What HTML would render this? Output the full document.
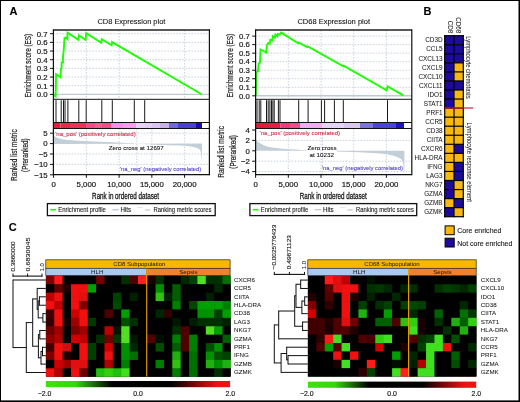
<!DOCTYPE html>
<html><head><meta charset="utf-8"><title>Figure</title><style>html,body{margin:0;padding:0;background:#fff;}body{width:520px;height:402px;overflow:hidden;font-family:"Liberation Sans", sans-serif;}svg{display:block;will-change:transform;}</style></head><body>
<svg width="520" height="402" viewBox="0 0 520 402" font-family='"Liberation Sans", sans-serif'>
<defs>
<linearGradient id="cbL" x1="0" x2="1" y1="0" y2="0"><stop offset="0" stop-color="#40e010"/><stop offset="0.16" stop-color="#36d80c"/><stop offset="0.36" stop-color="#000"/><stop offset="0.68" stop-color="#000"/><stop offset="0.93" stop-color="#f01010"/><stop offset="1" stop-color="#f41212"/></linearGradient>
<linearGradient id="cbR" x1="0" x2="1" y1="0" y2="0"><stop offset="0" stop-color="#40e010"/><stop offset="0.16" stop-color="#36d80c"/><stop offset="0.36" stop-color="#000"/><stop offset="0.68" stop-color="#000"/><stop offset="0.93" stop-color="#f01010"/><stop offset="1" stop-color="#f41212"/></linearGradient>
</defs>
<rect x="0.00" y="0.00" width="520.00" height="402.00" fill="#000"/>
<rect x="1.00" y="1.00" width="517.50" height="399.40" fill="#fff"/>
<text x="9.60" y="15.00" font-size="11" fill="#000" stroke="#000" stroke-width="0.12" font-weight="bold">A</text>
<text x="131.40" y="24.20" font-size="7.5" fill="#111" stroke="#111" stroke-width="0.08" text-anchor="middle" textLength="68.00" lengthAdjust="spacingAndGlyphs">CD8 Expression plot</text>
<line x1="53.40" y1="85.73" x2="209.40" y2="85.73" stroke="#bdc8d3" stroke-width="0.8" stroke-dasharray="1.6 1.4"/>
<line x1="53.40" y1="77.06" x2="209.40" y2="77.06" stroke="#bdc8d3" stroke-width="0.8" stroke-dasharray="1.6 1.4"/>
<line x1="53.40" y1="68.39" x2="209.40" y2="68.39" stroke="#bdc8d3" stroke-width="0.8" stroke-dasharray="1.6 1.4"/>
<line x1="53.40" y1="59.71" x2="209.40" y2="59.71" stroke="#bdc8d3" stroke-width="0.8" stroke-dasharray="1.6 1.4"/>
<line x1="53.40" y1="51.04" x2="209.40" y2="51.04" stroke="#bdc8d3" stroke-width="0.8" stroke-dasharray="1.6 1.4"/>
<line x1="53.40" y1="42.37" x2="209.40" y2="42.37" stroke="#bdc8d3" stroke-width="0.8" stroke-dasharray="1.6 1.4"/>
<line x1="53.40" y1="33.70" x2="209.40" y2="33.70" stroke="#bdc8d3" stroke-width="0.8" stroke-dasharray="1.6 1.4"/>
<line x1="86.35" y1="30.00" x2="86.35" y2="99.30" stroke="#bdc8d3" stroke-width="0.8" stroke-dasharray="1.6 1.4"/>
<line x1="119.10" y1="30.00" x2="119.10" y2="99.30" stroke="#bdc8d3" stroke-width="0.8" stroke-dasharray="1.6 1.4"/>
<line x1="184.60" y1="30.00" x2="184.60" y2="99.30" stroke="#bdc8d3" stroke-width="0.8" stroke-dasharray="1.6 1.4"/>
<line x1="53.40" y1="94.40" x2="209.40" y2="94.40" stroke="#bccad6" stroke-width="1.4"/>
<polyline points="53.90,94.70 55.60,96.30 56.10,74.30 60.50,77.20 61.00,69.00 61.60,67.80 61.60,62.40 63.00,62.40 63.00,57.00 63.80,49.50 64.50,38.00 66.00,37.60 67.40,39.00 67.60,32.70 78.40,39.80 78.80,35.50 85.60,39.80 86.20,33.20 101.20,42.80 101.80,39.30 111.60,45.30 112.10,42.10 201.60,94.30" fill="none" stroke="#1cff00" stroke-width="1.9" stroke-linejoin="miter"/>
<line x1="53.40" y1="133.20" x2="209.40" y2="133.20" stroke="#bdc8d3" stroke-width="0.8" stroke-dasharray="1.6 1.4"/>
<line x1="53.40" y1="154.00" x2="209.40" y2="154.00" stroke="#bdc8d3" stroke-width="0.8" stroke-dasharray="1.6 1.4"/>
<line x1="53.40" y1="164.40" x2="209.40" y2="164.40" stroke="#bdc8d3" stroke-width="0.8" stroke-dasharray="1.6 1.4"/>
<line x1="86.35" y1="128.50" x2="86.35" y2="174.60" stroke="#bdc8d3" stroke-width="0.8" stroke-dasharray="1.6 1.4"/>
<line x1="119.10" y1="128.50" x2="119.10" y2="174.60" stroke="#bdc8d3" stroke-width="0.8" stroke-dasharray="1.6 1.4"/>
<line x1="151.85" y1="128.50" x2="151.85" y2="174.60" stroke="#bdc8d3" stroke-width="0.8" stroke-dasharray="1.6 1.4"/>
<line x1="184.60" y1="128.50" x2="184.60" y2="174.60" stroke="#bdc8d3" stroke-width="0.8" stroke-dasharray="1.6 1.4"/>
<line x1="136.77" y1="128.50" x2="136.77" y2="174.60" stroke="#bdc8d3" stroke-width="0.8" stroke-dasharray="1.6 1.4"/>
<path d="M54,143.9 L54,135.9 C56,137.3 59,138.5 64,139.5 C72,140.6 84,141.2 100,141.8 C112,142.2 125,142.8 137,143.4 L137,143.7 L160,145 L180,145.6 C190,146.2 196,147.2 199,149 C200.6,150 201.2,152 201.6,160 L201.9,160 L201.9,143.6 Z" fill="#c3cfd8" stroke="none"/>
<rect x="53.90" y="122.50" width="6.60" height="6.00" fill="#ec1a3c"/>
<rect x="60.50" y="122.50" width="9.50" height="6.00" fill="#ea2a48"/>
<rect x="70.00" y="122.50" width="16.00" height="6.00" fill="#ee3358"/>
<rect x="86.00" y="122.50" width="9.00" height="6.00" fill="#f24d86"/>
<rect x="95.00" y="122.50" width="7.00" height="6.00" fill="#f0608e"/>
<rect x="102.00" y="122.50" width="9.60" height="6.00" fill="#ef4f86"/>
<rect x="111.60" y="122.50" width="11.40" height="6.00" fill="#f88eea"/>
<rect x="123.00" y="122.50" width="13.00" height="6.00" fill="#f89cec"/>
<rect x="136.00" y="122.50" width="9.00" height="6.00" fill="#e8d2f6"/>
<rect x="145.00" y="122.50" width="7.00" height="6.00" fill="#e4ccf4"/>
<rect x="152.00" y="122.50" width="8.00" height="6.00" fill="#dac4f4"/>
<rect x="160.00" y="122.50" width="9.00" height="6.00" fill="#c8b0f0"/>
<rect x="169.00" y="122.50" width="9.00" height="6.00" fill="#7068e0"/>
<rect x="178.00" y="122.50" width="18.00" height="6.00" fill="#4a40d4"/>
<rect x="196.00" y="122.50" width="6.00" height="6.00" fill="#1a0cb4"/>
<rect x="202.00" y="122.50" width="6.80" height="6.00" fill="#ffffff"/>
<line x1="56.00" y1="100.20" x2="56.00" y2="122.50" stroke="#1a1a1a" stroke-width="1.0"/>
<line x1="61.20" y1="100.20" x2="61.20" y2="122.50" stroke="#1a1a1a" stroke-width="1.0"/>
<line x1="63.50" y1="100.20" x2="63.50" y2="122.50" stroke="#1a1a1a" stroke-width="1.0"/>
<line x1="65.00" y1="100.20" x2="65.00" y2="122.50" stroke="#1a1a1a" stroke-width="1.0"/>
<line x1="67.90" y1="100.20" x2="67.90" y2="122.50" stroke="#1a1a1a" stroke-width="1.0"/>
<line x1="78.80" y1="100.20" x2="78.80" y2="122.50" stroke="#1a1a1a" stroke-width="1.0"/>
<line x1="86.20" y1="100.20" x2="86.20" y2="122.50" stroke="#1a1a1a" stroke-width="1.0"/>
<line x1="101.80" y1="100.20" x2="101.80" y2="122.50" stroke="#1a1a1a" stroke-width="1.0"/>
<line x1="112.30" y1="100.20" x2="112.30" y2="122.50" stroke="#1a1a1a" stroke-width="1.0"/>
<line x1="134.30" y1="100.20" x2="134.30" y2="122.50" stroke="#1a1a1a" stroke-width="1.0"/>
<line x1="144.70" y1="100.20" x2="144.70" y2="122.50" stroke="#1a1a1a" stroke-width="1.0"/>
<line x1="53.40" y1="30.00" x2="209.40" y2="30.00" stroke="#222" stroke-width="1.4"/>
<line x1="53.40" y1="99.30" x2="209.40" y2="99.30" stroke="#111" stroke-width="1.0"/>
<line x1="53.40" y1="122.50" x2="209.40" y2="122.50" stroke="#111" stroke-width="1.0"/>
<line x1="53.40" y1="128.50" x2="209.40" y2="128.50" stroke="#111" stroke-width="1.0"/>
<line x1="53.40" y1="174.60" x2="209.40" y2="174.60" stroke="#111" stroke-width="1.2"/>
<line x1="53.40" y1="29.30" x2="53.40" y2="175.20" stroke="#111" stroke-width="1.2"/>
<line x1="209.40" y1="29.30" x2="209.40" y2="175.20" stroke="#111" stroke-width="1.2"/>
<line x1="50.00" y1="94.40" x2="53.40" y2="94.40" stroke="#111" stroke-width="1.0"/>
<text x="47.60" y="97.20" font-size="7.8" fill="#1a1a1a" stroke="#1a1a1a" stroke-width="0.2" text-anchor="end">0.0</text>
<line x1="50.00" y1="85.73" x2="53.40" y2="85.73" stroke="#111" stroke-width="1.0"/>
<text x="47.60" y="88.53" font-size="7.8" fill="#1a1a1a" stroke="#1a1a1a" stroke-width="0.2" text-anchor="end">0.1</text>
<line x1="50.00" y1="77.06" x2="53.40" y2="77.06" stroke="#111" stroke-width="1.0"/>
<text x="47.60" y="79.86" font-size="7.8" fill="#1a1a1a" stroke="#1a1a1a" stroke-width="0.2" text-anchor="end">0.2</text>
<line x1="50.00" y1="68.39" x2="53.40" y2="68.39" stroke="#111" stroke-width="1.0"/>
<text x="47.60" y="71.19" font-size="7.8" fill="#1a1a1a" stroke="#1a1a1a" stroke-width="0.2" text-anchor="end">0.3</text>
<line x1="50.00" y1="59.71" x2="53.40" y2="59.71" stroke="#111" stroke-width="1.0"/>
<text x="47.60" y="62.51" font-size="7.8" fill="#1a1a1a" stroke="#1a1a1a" stroke-width="0.2" text-anchor="end">0.4</text>
<line x1="50.00" y1="51.04" x2="53.40" y2="51.04" stroke="#111" stroke-width="1.0"/>
<text x="47.60" y="53.84" font-size="7.8" fill="#1a1a1a" stroke="#1a1a1a" stroke-width="0.2" text-anchor="end">0.5</text>
<line x1="50.00" y1="42.37" x2="53.40" y2="42.37" stroke="#111" stroke-width="1.0"/>
<text x="47.60" y="45.17" font-size="7.8" fill="#1a1a1a" stroke="#1a1a1a" stroke-width="0.2" text-anchor="end">0.6</text>
<line x1="50.00" y1="33.70" x2="53.40" y2="33.70" stroke="#111" stroke-width="1.0"/>
<text x="47.60" y="36.50" font-size="7.8" fill="#1a1a1a" stroke="#1a1a1a" stroke-width="0.2" text-anchor="end">0.7</text>
<line x1="50.00" y1="133.20" x2="53.40" y2="133.20" stroke="#111" stroke-width="1.0"/>
<text x="47.60" y="136.00" font-size="7.8" fill="#1a1a1a" stroke="#1a1a1a" stroke-width="0.2" text-anchor="end">5</text>
<line x1="50.00" y1="143.60" x2="53.40" y2="143.60" stroke="#111" stroke-width="1.0"/>
<text x="47.60" y="146.40" font-size="7.8" fill="#1a1a1a" stroke="#1a1a1a" stroke-width="0.2" text-anchor="end">0</text>
<line x1="50.00" y1="154.00" x2="53.40" y2="154.00" stroke="#111" stroke-width="1.0"/>
<text x="47.60" y="156.80" font-size="7.8" fill="#1a1a1a" stroke="#1a1a1a" stroke-width="0.2" text-anchor="end">−5</text>
<line x1="50.00" y1="164.40" x2="53.40" y2="164.40" stroke="#111" stroke-width="1.0"/>
<text x="47.60" y="167.20" font-size="7.8" fill="#1a1a1a" stroke="#1a1a1a" stroke-width="0.2" text-anchor="end">−10</text>
<line x1="50.00" y1="174.80" x2="53.40" y2="174.80" stroke="#111" stroke-width="1.0"/>
<text x="47.60" y="177.60" font-size="7.8" fill="#1a1a1a" stroke="#1a1a1a" stroke-width="0.2" text-anchor="end">−15</text>
<line x1="53.60" y1="174.60" x2="53.60" y2="177.80" stroke="#111" stroke-width="1.0"/>
<text x="53.60" y="187.00" font-size="7.8" fill="#1a1a1a" stroke="#1a1a1a" stroke-width="0.2" text-anchor="middle">0</text>
<line x1="86.35" y1="174.60" x2="86.35" y2="177.80" stroke="#111" stroke-width="1.0"/>
<text x="86.35" y="187.00" font-size="7.8" fill="#1a1a1a" stroke="#1a1a1a" stroke-width="0.2" text-anchor="middle">5,000</text>
<line x1="119.10" y1="174.60" x2="119.10" y2="177.80" stroke="#111" stroke-width="1.0"/>
<text x="119.10" y="187.00" font-size="7.8" fill="#1a1a1a" stroke="#1a1a1a" stroke-width="0.2" text-anchor="middle">10,000</text>
<line x1="151.85" y1="174.60" x2="151.85" y2="177.80" stroke="#111" stroke-width="1.0"/>
<text x="151.85" y="187.00" font-size="7.8" fill="#1a1a1a" stroke="#1a1a1a" stroke-width="0.2" text-anchor="middle">15,000</text>
<line x1="184.60" y1="174.60" x2="184.60" y2="177.80" stroke="#111" stroke-width="1.0"/>
<text x="184.60" y="187.00" font-size="7.8" fill="#1a1a1a" stroke="#1a1a1a" stroke-width="0.2" text-anchor="middle">20,000</text>
<text x="125.60" y="198.90" font-size="9.2" fill="#111" stroke="#111" stroke-width="0.28" text-anchor="middle" textLength="67.00" lengthAdjust="spacingAndGlyphs">Rank in ordered dataset</text>
<text x="31.00" y="65.65" font-size="9.0" fill="#1a1a1a" stroke="#1a1a1a" stroke-width="0.2" text-anchor="middle" textLength="63.50" lengthAdjust="spacingAndGlyphs" transform="rotate(-90 31.00 65.65)">Enrichment score (ES)</text>
<text x="16.80" y="155.10" font-size="8.6" fill="#1a1a1a" stroke="#1a1a1a" stroke-width="0.2" text-anchor="middle" textLength="51.60" lengthAdjust="spacingAndGlyphs" transform="rotate(-90 16.80 155.10)">Ranked list metric</text>
<text x="27.90" y="155.10" font-size="8.6" fill="#1a1a1a" stroke="#1a1a1a" stroke-width="0.2" text-anchor="middle" textLength="33.70" lengthAdjust="spacingAndGlyphs" transform="rotate(-90 27.90 155.10)">(Preranked)</text>
<text x="55.20" y="135.70" font-size="6.2" fill="#d22a46" stroke="#d22a46" stroke-width="0.08" textLength="80.50" lengthAdjust="spacingAndGlyphs">'na_pos' (positively correlated)</text>
<text x="108.80" y="150.00" font-size="6.2" fill="#111" stroke="#111" stroke-width="0.08" textLength="54.90" lengthAdjust="spacingAndGlyphs">Zero cross at 12697</text>
<text x="119.90" y="170.80" font-size="6.2" fill="#4c3cc4" stroke="#4c3cc4" stroke-width="0.08" textLength="81.40" lengthAdjust="spacingAndGlyphs">'na_neg' (negatively correlated)</text>
<rect x="47.40" y="203.60" width="167.80" height="12.00" fill="none" stroke="#111" stroke-width="1.3"/>
<line x1="50.20" y1="209.70" x2="56.00" y2="209.70" stroke="#1cff00" stroke-width="1.6"/>
<text x="58.30" y="211.80" font-size="6.9" fill="#222" stroke="#222" stroke-width="0.12" textLength="47.50" lengthAdjust="spacingAndGlyphs">Enrichment profile</text>
<line x1="112.40" y1="209.70" x2="118.80" y2="209.70" stroke="#bccad6" stroke-width="1.3"/>
<text x="120.50" y="211.80" font-size="6.9" fill="#222" stroke="#222" stroke-width="0.12" textLength="10.60" lengthAdjust="spacingAndGlyphs">Hits</text>
<line x1="137.50" y1="207.50" x2="142.90" y2="207.50" stroke="#e3e9ee" stroke-width="1.1"/>
<line x1="144.90" y1="210.00" x2="150.30" y2="210.00" stroke="#bccad6" stroke-width="1.2"/>
<text x="153.60" y="211.80" font-size="6.9" fill="#222" stroke="#222" stroke-width="0.12" textLength="57.90" lengthAdjust="spacingAndGlyphs">Ranking metric scores</text>
<text x="333.70" y="24.20" font-size="7.5" fill="#111" stroke="#111" stroke-width="0.08" text-anchor="middle" textLength="72.60" lengthAdjust="spacingAndGlyphs">CD68 Expression plot</text>
<line x1="255.60" y1="87.27" x2="411.80" y2="87.27" stroke="#bdc8d3" stroke-width="0.8" stroke-dasharray="1.6 1.4"/>
<line x1="255.60" y1="78.74" x2="411.80" y2="78.74" stroke="#bdc8d3" stroke-width="0.8" stroke-dasharray="1.6 1.4"/>
<line x1="255.60" y1="70.21" x2="411.80" y2="70.21" stroke="#bdc8d3" stroke-width="0.8" stroke-dasharray="1.6 1.4"/>
<line x1="255.60" y1="61.69" x2="411.80" y2="61.69" stroke="#bdc8d3" stroke-width="0.8" stroke-dasharray="1.6 1.4"/>
<line x1="255.60" y1="53.16" x2="411.80" y2="53.16" stroke="#bdc8d3" stroke-width="0.8" stroke-dasharray="1.6 1.4"/>
<line x1="255.60" y1="44.63" x2="411.80" y2="44.63" stroke="#bdc8d3" stroke-width="0.8" stroke-dasharray="1.6 1.4"/>
<line x1="255.60" y1="36.10" x2="411.80" y2="36.10" stroke="#bdc8d3" stroke-width="0.8" stroke-dasharray="1.6 1.4"/>
<line x1="288.30" y1="30.00" x2="288.30" y2="99.30" stroke="#bdc8d3" stroke-width="0.8" stroke-dasharray="1.6 1.4"/>
<line x1="321.00" y1="30.00" x2="321.00" y2="99.30" stroke="#bdc8d3" stroke-width="0.8" stroke-dasharray="1.6 1.4"/>
<line x1="353.70" y1="30.00" x2="353.70" y2="99.30" stroke="#bdc8d3" stroke-width="0.8" stroke-dasharray="1.6 1.4"/>
<line x1="386.40" y1="30.00" x2="386.40" y2="99.30" stroke="#bdc8d3" stroke-width="0.8" stroke-dasharray="1.6 1.4"/>
<line x1="255.60" y1="95.80" x2="411.80" y2="95.80" stroke="#bccad6" stroke-width="1.4"/>
<polyline points="255.80,95.70 256.30,72.50 258.00,71.30 258.70,63.30 260.00,62.80 260.50,49.50 266.20,52.50 266.80,45.50 268.20,43.00 269.80,43.80 270.40,39.60 272.40,40.60 272.90,36.40 274.90,37.60 275.40,34.60 277.40,36.20 277.90,34.00 279.60,34.60 281.20,32.60 298.20,43.20 298.80,42.60 307.20,47.00 307.80,46.40 343.00,66.10 343.60,65.60 386.60,90.30 387.60,86.40 403.30,95.40" fill="none" stroke="#1cff00" stroke-width="1.9" stroke-linejoin="miter"/>
<line x1="255.60" y1="140.40" x2="411.80" y2="140.40" stroke="#bdc8d3" stroke-width="0.8" stroke-dasharray="1.6 1.4"/>
<line x1="255.60" y1="161.20" x2="411.80" y2="161.20" stroke="#bdc8d3" stroke-width="0.8" stroke-dasharray="1.6 1.4"/>
<line x1="255.60" y1="171.60" x2="411.80" y2="171.60" stroke="#bdc8d3" stroke-width="0.8" stroke-dasharray="1.6 1.4"/>
<line x1="288.30" y1="128.50" x2="288.30" y2="174.60" stroke="#bdc8d3" stroke-width="0.8" stroke-dasharray="1.6 1.4"/>
<line x1="321.00" y1="128.50" x2="321.00" y2="174.60" stroke="#bdc8d3" stroke-width="0.8" stroke-dasharray="1.6 1.4"/>
<line x1="353.70" y1="128.50" x2="353.70" y2="174.60" stroke="#bdc8d3" stroke-width="0.8" stroke-dasharray="1.6 1.4"/>
<line x1="386.40" y1="128.50" x2="386.40" y2="174.60" stroke="#bdc8d3" stroke-width="0.8" stroke-dasharray="1.6 1.4"/>
<line x1="322.52" y1="128.50" x2="322.52" y2="174.60" stroke="#bdc8d3" stroke-width="0.8" stroke-dasharray="1.6 1.4"/>
<path d="M256,150.8 L256,140.3 C259,142.5 262,145 268,146.8 C278,148.6 292,149.6 306.5,150.2 L306.5,150.8 Z M337,150.8 L337,151.5 L360,152.2 L380,153.5 C392,154.8 398,156.5 401.5,159.5 C403,161 403.6,165 404,172 L404.4,172 L404.4,150.8 Z" fill="#c3cfd8" stroke="none"/>
<rect x="255.90" y="122.50" width="12.10" height="6.00" fill="#ee1638"/>
<rect x="268.00" y="122.50" width="12.40" height="6.00" fill="#e81c40"/>
<rect x="280.40" y="122.50" width="9.60" height="6.00" fill="#f03c7c"/>
<rect x="290.00" y="122.50" width="10.00" height="6.00" fill="#f0508a"/>
<rect x="300.00" y="122.50" width="22.00" height="6.00" fill="#f8aaf0"/>
<rect x="322.00" y="122.50" width="21.60" height="6.00" fill="#e6d4f6"/>
<rect x="343.60" y="122.50" width="16.40" height="6.00" fill="#d9c8f2"/>
<rect x="360.00" y="122.50" width="13.00" height="6.00" fill="#7c74e4"/>
<rect x="373.00" y="122.50" width="23.00" height="6.00" fill="#4a44d8"/>
<rect x="396.00" y="122.50" width="8.00" height="6.00" fill="#1a14c4"/>
<rect x="404.00" y="122.50" width="7.40" height="6.00" fill="#ffffff"/>
<line x1="257.00" y1="100.20" x2="257.00" y2="122.50" stroke="#1a1a1a" stroke-width="1.0"/>
<line x1="259.20" y1="100.20" x2="259.20" y2="122.50" stroke="#1a1a1a" stroke-width="1.0"/>
<line x1="260.80" y1="100.20" x2="260.80" y2="122.50" stroke="#1a1a1a" stroke-width="1.0"/>
<line x1="266.50" y1="100.20" x2="266.50" y2="122.50" stroke="#1a1a1a" stroke-width="1.0"/>
<line x1="268.20" y1="100.20" x2="268.20" y2="122.50" stroke="#1a1a1a" stroke-width="1.0"/>
<line x1="269.90" y1="100.20" x2="269.90" y2="122.50" stroke="#1a1a1a" stroke-width="1.0"/>
<line x1="271.50" y1="100.20" x2="271.50" y2="122.50" stroke="#1a1a1a" stroke-width="1.0"/>
<line x1="272.90" y1="100.20" x2="272.90" y2="122.50" stroke="#1a1a1a" stroke-width="1.0"/>
<line x1="274.20" y1="100.20" x2="274.20" y2="122.50" stroke="#1a1a1a" stroke-width="1.0"/>
<line x1="278.40" y1="100.20" x2="278.40" y2="122.50" stroke="#1a1a1a" stroke-width="1.0"/>
<line x1="280.00" y1="100.20" x2="280.00" y2="122.50" stroke="#1a1a1a" stroke-width="1.0"/>
<line x1="298.70" y1="100.20" x2="298.70" y2="122.50" stroke="#1a1a1a" stroke-width="1.0"/>
<line x1="308.10" y1="100.20" x2="308.10" y2="122.50" stroke="#1a1a1a" stroke-width="1.0"/>
<line x1="321.40" y1="100.20" x2="321.40" y2="122.50" stroke="#1a1a1a" stroke-width="1.0"/>
<line x1="324.60" y1="100.20" x2="324.60" y2="122.50" stroke="#1a1a1a" stroke-width="1.0"/>
<line x1="334.40" y1="100.20" x2="334.40" y2="122.50" stroke="#1a1a1a" stroke-width="1.0"/>
<line x1="343.30" y1="100.20" x2="343.30" y2="122.50" stroke="#1a1a1a" stroke-width="1.0"/>
<line x1="387.50" y1="100.20" x2="387.50" y2="122.50" stroke="#1a1a1a" stroke-width="1.0"/>
<line x1="255.60" y1="30.00" x2="411.80" y2="30.00" stroke="#222" stroke-width="1.4"/>
<line x1="255.60" y1="99.30" x2="411.80" y2="99.30" stroke="#111" stroke-width="1.0"/>
<line x1="255.60" y1="122.50" x2="411.80" y2="122.50" stroke="#111" stroke-width="1.0"/>
<line x1="255.60" y1="128.50" x2="411.80" y2="128.50" stroke="#111" stroke-width="1.0"/>
<line x1="255.60" y1="174.60" x2="411.80" y2="174.60" stroke="#111" stroke-width="1.2"/>
<line x1="255.60" y1="29.30" x2="255.60" y2="175.20" stroke="#111" stroke-width="1.2"/>
<line x1="411.80" y1="29.30" x2="411.80" y2="175.20" stroke="#111" stroke-width="1.2"/>
<line x1="252.20" y1="95.80" x2="255.60" y2="95.80" stroke="#111" stroke-width="1.0"/>
<text x="249.80" y="98.60" font-size="7.8" fill="#1a1a1a" stroke="#1a1a1a" stroke-width="0.2" text-anchor="end">0.0</text>
<line x1="252.20" y1="87.27" x2="255.60" y2="87.27" stroke="#111" stroke-width="1.0"/>
<text x="249.80" y="90.07" font-size="7.8" fill="#1a1a1a" stroke="#1a1a1a" stroke-width="0.2" text-anchor="end">0.1</text>
<line x1="252.20" y1="78.74" x2="255.60" y2="78.74" stroke="#111" stroke-width="1.0"/>
<text x="249.80" y="81.54" font-size="7.8" fill="#1a1a1a" stroke="#1a1a1a" stroke-width="0.2" text-anchor="end">0.2</text>
<line x1="252.20" y1="70.21" x2="255.60" y2="70.21" stroke="#111" stroke-width="1.0"/>
<text x="249.80" y="73.01" font-size="7.8" fill="#1a1a1a" stroke="#1a1a1a" stroke-width="0.2" text-anchor="end">0.3</text>
<line x1="252.20" y1="61.69" x2="255.60" y2="61.69" stroke="#111" stroke-width="1.0"/>
<text x="249.80" y="64.49" font-size="7.8" fill="#1a1a1a" stroke="#1a1a1a" stroke-width="0.2" text-anchor="end">0.4</text>
<line x1="252.20" y1="53.16" x2="255.60" y2="53.16" stroke="#111" stroke-width="1.0"/>
<text x="249.80" y="55.96" font-size="7.8" fill="#1a1a1a" stroke="#1a1a1a" stroke-width="0.2" text-anchor="end">0.5</text>
<line x1="252.20" y1="44.63" x2="255.60" y2="44.63" stroke="#111" stroke-width="1.0"/>
<text x="249.80" y="47.43" font-size="7.8" fill="#1a1a1a" stroke="#1a1a1a" stroke-width="0.2" text-anchor="end">0.6</text>
<line x1="252.20" y1="36.10" x2="255.60" y2="36.10" stroke="#111" stroke-width="1.0"/>
<text x="249.80" y="38.90" font-size="7.8" fill="#1a1a1a" stroke="#1a1a1a" stroke-width="0.2" text-anchor="end">0.7</text>
<line x1="252.20" y1="130.00" x2="255.60" y2="130.00" stroke="#111" stroke-width="1.0"/>
<text x="249.80" y="132.80" font-size="7.8" fill="#1a1a1a" stroke="#1a1a1a" stroke-width="0.2" text-anchor="end">4</text>
<line x1="252.20" y1="140.40" x2="255.60" y2="140.40" stroke="#111" stroke-width="1.0"/>
<text x="249.80" y="143.20" font-size="7.8" fill="#1a1a1a" stroke="#1a1a1a" stroke-width="0.2" text-anchor="end">2</text>
<line x1="252.20" y1="150.80" x2="255.60" y2="150.80" stroke="#111" stroke-width="1.0"/>
<text x="249.80" y="153.60" font-size="7.8" fill="#1a1a1a" stroke="#1a1a1a" stroke-width="0.2" text-anchor="end">0</text>
<line x1="252.20" y1="161.20" x2="255.60" y2="161.20" stroke="#111" stroke-width="1.0"/>
<text x="249.80" y="164.00" font-size="7.8" fill="#1a1a1a" stroke="#1a1a1a" stroke-width="0.2" text-anchor="end">−2</text>
<line x1="252.20" y1="171.60" x2="255.60" y2="171.60" stroke="#111" stroke-width="1.0"/>
<text x="249.80" y="174.40" font-size="7.8" fill="#1a1a1a" stroke="#1a1a1a" stroke-width="0.2" text-anchor="end">−4</text>
<line x1="255.60" y1="174.60" x2="255.60" y2="177.80" stroke="#111" stroke-width="1.0"/>
<text x="255.60" y="187.00" font-size="7.8" fill="#1a1a1a" stroke="#1a1a1a" stroke-width="0.2" text-anchor="middle">0</text>
<line x1="288.30" y1="174.60" x2="288.30" y2="177.80" stroke="#111" stroke-width="1.0"/>
<text x="288.30" y="187.00" font-size="7.8" fill="#1a1a1a" stroke="#1a1a1a" stroke-width="0.2" text-anchor="middle">5,000</text>
<line x1="321.00" y1="174.60" x2="321.00" y2="177.80" stroke="#111" stroke-width="1.0"/>
<text x="321.00" y="187.00" font-size="7.8" fill="#1a1a1a" stroke="#1a1a1a" stroke-width="0.2" text-anchor="middle">10,000</text>
<line x1="353.70" y1="174.60" x2="353.70" y2="177.80" stroke="#111" stroke-width="1.0"/>
<text x="353.70" y="187.00" font-size="7.8" fill="#1a1a1a" stroke="#1a1a1a" stroke-width="0.2" text-anchor="middle">15,000</text>
<line x1="386.40" y1="174.60" x2="386.40" y2="177.80" stroke="#111" stroke-width="1.0"/>
<text x="386.40" y="187.00" font-size="7.8" fill="#1a1a1a" stroke="#1a1a1a" stroke-width="0.2" text-anchor="middle">20,000</text>
<text x="333.30" y="198.90" font-size="9.2" fill="#111" stroke="#111" stroke-width="0.28" text-anchor="middle" textLength="67.00" lengthAdjust="spacingAndGlyphs">Rank in ordered dataset</text>
<text x="232.60" y="65.65" font-size="9.0" fill="#1a1a1a" stroke="#1a1a1a" stroke-width="0.2" text-anchor="middle" textLength="63.50" lengthAdjust="spacingAndGlyphs" transform="rotate(-90 232.60 65.65)">Enrichment score (ES)</text>
<text x="224.20" y="151.90" font-size="8.6" fill="#1a1a1a" stroke="#1a1a1a" stroke-width="0.2" text-anchor="middle" textLength="51.60" lengthAdjust="spacingAndGlyphs" transform="rotate(-90 224.20 151.90)">Ranked list metric</text>
<text x="235.60" y="151.90" font-size="8.6" fill="#1a1a1a" stroke="#1a1a1a" stroke-width="0.2" text-anchor="middle" textLength="33.70" lengthAdjust="spacingAndGlyphs" transform="rotate(-90 235.60 151.90)">(Preranked)</text>
<text x="259.60" y="135.20" font-size="6.2" fill="#d22a46" stroke="#d22a46" stroke-width="0.08" textLength="80.50" lengthAdjust="spacingAndGlyphs">'na_pos' (positively correlated)</text>
<text x="307.50" y="149.60" font-size="6.2" fill="#111" stroke="#111" stroke-width="0.08" textLength="29.00" lengthAdjust="spacingAndGlyphs">Zero cross</text>
<text x="309.60" y="156.90" font-size="6.2" fill="#111" stroke="#111" stroke-width="0.08" textLength="24.50" lengthAdjust="spacingAndGlyphs">at 10232</text>
<text x="322.00" y="169.50" font-size="6.2" fill="#4c3cc4" stroke="#4c3cc4" stroke-width="0.08" textLength="81.00" lengthAdjust="spacingAndGlyphs">'na_neg' (negatively correlated)</text>
<rect x="249.90" y="203.60" width="166.80" height="12.00" fill="none" stroke="#111" stroke-width="1.3"/>
<line x1="252.70" y1="209.70" x2="258.50" y2="209.70" stroke="#1cff00" stroke-width="1.6"/>
<text x="260.80" y="211.80" font-size="6.9" fill="#222" stroke="#222" stroke-width="0.12" textLength="47.50" lengthAdjust="spacingAndGlyphs">Enrichment profile</text>
<line x1="314.90" y1="209.70" x2="321.30" y2="209.70" stroke="#bccad6" stroke-width="1.3"/>
<text x="323.00" y="211.80" font-size="6.9" fill="#222" stroke="#222" stroke-width="0.12" textLength="10.60" lengthAdjust="spacingAndGlyphs">Hits</text>
<line x1="340.00" y1="207.50" x2="345.40" y2="207.50" stroke="#e3e9ee" stroke-width="1.1"/>
<line x1="347.40" y1="210.00" x2="352.80" y2="210.00" stroke="#bccad6" stroke-width="1.2"/>
<text x="356.10" y="211.80" font-size="6.9" fill="#222" stroke="#222" stroke-width="0.12" textLength="57.90" lengthAdjust="spacingAndGlyphs">Ranking metric scores</text>
<text x="423.50" y="14.90" font-size="11" fill="#000" stroke="#000" stroke-width="0.12" font-weight="bold">B</text>
<rect x="444.70" y="35.70" width="9.30" height="9.05" fill="#1d0b9c"/>
<rect x="454.00" y="35.70" width="9.30" height="9.05" fill="#1d0b9c"/>
<text x="442.60" y="42.43" font-size="6.4" fill="#1a1a1a" stroke="#1a1a1a" stroke-width="0.04" text-anchor="end">CD3D</text>
<rect x="444.70" y="44.75" width="9.30" height="9.05" fill="#1d0b9c"/>
<rect x="454.00" y="44.75" width="9.30" height="9.05" fill="#1d0b9c"/>
<text x="442.60" y="51.48" font-size="6.4" fill="#1a1a1a" stroke="#1a1a1a" stroke-width="0.04" text-anchor="end">CCL5</text>
<rect x="444.70" y="53.80" width="9.30" height="9.05" fill="#1d0b9c"/>
<rect x="454.00" y="53.80" width="9.30" height="9.05" fill="#1d0b9c"/>
<text x="442.60" y="60.53" font-size="6.4" fill="#1a1a1a" stroke="#1a1a1a" stroke-width="0.04" text-anchor="end">CXCL13</text>
<rect x="444.70" y="62.85" width="9.30" height="9.05" fill="#1d0b9c"/>
<rect x="454.00" y="62.85" width="9.30" height="9.05" fill="#f9b90c"/>
<text x="442.60" y="69.58" font-size="6.4" fill="#1a1a1a" stroke="#1a1a1a" stroke-width="0.04" text-anchor="end">CXCL9</text>
<rect x="444.70" y="71.90" width="9.30" height="9.05" fill="#1d0b9c"/>
<rect x="454.00" y="71.90" width="9.30" height="9.05" fill="#f9b90c"/>
<text x="442.60" y="78.63" font-size="6.4" fill="#1a1a1a" stroke="#1a1a1a" stroke-width="0.04" text-anchor="end">CXCL10</text>
<rect x="444.70" y="80.95" width="9.30" height="9.05" fill="#1d0b9c"/>
<rect x="454.00" y="80.95" width="9.30" height="9.05" fill="#1d0b9c"/>
<text x="442.60" y="87.68" font-size="6.4" fill="#1a1a1a" stroke="#1a1a1a" stroke-width="0.04" text-anchor="end">CXCL11</text>
<rect x="444.70" y="90.00" width="9.30" height="9.05" fill="#1d0b9c"/>
<rect x="454.00" y="90.00" width="9.30" height="9.05" fill="#f9b90c"/>
<text x="442.60" y="96.73" font-size="6.4" fill="#1a1a1a" stroke="#1a1a1a" stroke-width="0.04" text-anchor="end">IDO1</text>
<rect x="444.70" y="99.05" width="9.30" height="9.05" fill="#1d0b9c"/>
<rect x="454.00" y="99.05" width="9.30" height="9.05" fill="#f9b90c"/>
<text x="442.60" y="105.78" font-size="6.4" fill="#1a1a1a" stroke="#1a1a1a" stroke-width="0.04" text-anchor="end">STAT1</text>
<rect x="444.70" y="108.10" width="9.30" height="9.05" fill="#f9b90c"/>
<rect x="454.00" y="108.10" width="9.30" height="9.05" fill="#f9b90c"/>
<text x="442.60" y="114.83" font-size="6.4" fill="#1a1a1a" stroke="#1a1a1a" stroke-width="0.04" text-anchor="end">PRF1</text>
<rect x="444.70" y="117.15" width="9.30" height="9.05" fill="#f9b90c"/>
<rect x="454.00" y="117.15" width="9.30" height="9.05" fill="#f9b90c"/>
<text x="442.60" y="123.88" font-size="6.4" fill="#1a1a1a" stroke="#1a1a1a" stroke-width="0.04" text-anchor="end">CCR5</text>
<rect x="444.70" y="126.20" width="9.30" height="9.05" fill="#f9b90c"/>
<rect x="454.00" y="126.20" width="9.30" height="9.05" fill="#f9b90c"/>
<text x="442.60" y="132.92" font-size="6.4" fill="#1a1a1a" stroke="#1a1a1a" stroke-width="0.04" text-anchor="end">CD38</text>
<rect x="444.70" y="135.25" width="9.30" height="9.05" fill="#f9b90c"/>
<rect x="454.00" y="135.25" width="9.30" height="9.05" fill="#f9b90c"/>
<text x="442.60" y="141.97" font-size="6.4" fill="#1a1a1a" stroke="#1a1a1a" stroke-width="0.04" text-anchor="end">CIITA</text>
<rect x="444.70" y="144.30" width="9.30" height="9.05" fill="#f9b90c"/>
<rect x="454.00" y="144.30" width="9.30" height="9.05" fill="#1d0b9c"/>
<text x="442.60" y="151.03" font-size="6.4" fill="#1a1a1a" stroke="#1a1a1a" stroke-width="0.04" text-anchor="end">CXCR6</text>
<rect x="444.70" y="153.35" width="9.30" height="9.05" fill="#f9b90c"/>
<rect x="454.00" y="153.35" width="9.30" height="9.05" fill="#f9b90c"/>
<text x="442.60" y="160.08" font-size="6.4" fill="#1a1a1a" stroke="#1a1a1a" stroke-width="0.04" text-anchor="end">HLA-DRA</text>
<rect x="444.70" y="162.40" width="9.30" height="9.05" fill="#f9b90c"/>
<rect x="454.00" y="162.40" width="9.30" height="9.05" fill="#1d0b9c"/>
<text x="442.60" y="169.13" font-size="6.4" fill="#1a1a1a" stroke="#1a1a1a" stroke-width="0.04" text-anchor="end">IFNG</text>
<rect x="444.70" y="171.45" width="9.30" height="9.05" fill="#f9b90c"/>
<rect x="454.00" y="171.45" width="9.30" height="9.05" fill="#1d0b9c"/>
<text x="442.60" y="178.17" font-size="6.4" fill="#1a1a1a" stroke="#1a1a1a" stroke-width="0.04" text-anchor="end">LAG3</text>
<rect x="444.70" y="180.50" width="9.30" height="9.05" fill="#1d0b9c"/>
<rect x="454.00" y="180.50" width="9.30" height="9.05" fill="#f9b90c"/>
<text x="442.60" y="187.22" font-size="6.4" fill="#1a1a1a" stroke="#1a1a1a" stroke-width="0.04" text-anchor="end">NKG7</text>
<rect x="444.70" y="189.55" width="9.30" height="9.05" fill="#1d0b9c"/>
<rect x="454.00" y="189.55" width="9.30" height="9.05" fill="#f9b90c"/>
<text x="442.60" y="196.28" font-size="6.4" fill="#1a1a1a" stroke="#1a1a1a" stroke-width="0.04" text-anchor="end">GZMA</text>
<rect x="444.70" y="198.60" width="9.30" height="9.05" fill="#f9b90c"/>
<rect x="454.00" y="198.60" width="9.30" height="9.05" fill="#1d0b9c"/>
<text x="442.60" y="205.33" font-size="6.4" fill="#1a1a1a" stroke="#1a1a1a" stroke-width="0.04" text-anchor="end">GZMB</text>
<rect x="444.70" y="207.65" width="9.30" height="9.05" fill="#1d0b9c"/>
<rect x="454.00" y="207.65" width="9.30" height="9.05" fill="#f9b90c"/>
<text x="442.60" y="214.38" font-size="6.4" fill="#1a1a1a" stroke="#1a1a1a" stroke-width="0.04" text-anchor="end">GZMK</text>
<line x1="444.10" y1="35.70" x2="463.90" y2="35.70" stroke="#000" stroke-width="1.2"/>
<line x1="444.10" y1="44.75" x2="463.90" y2="44.75" stroke="#000" stroke-width="1.2"/>
<line x1="444.10" y1="53.80" x2="463.90" y2="53.80" stroke="#000" stroke-width="1.2"/>
<line x1="444.10" y1="62.85" x2="463.90" y2="62.85" stroke="#000" stroke-width="1.2"/>
<line x1="444.10" y1="71.90" x2="463.90" y2="71.90" stroke="#000" stroke-width="1.2"/>
<line x1="444.10" y1="80.95" x2="463.90" y2="80.95" stroke="#000" stroke-width="1.2"/>
<line x1="444.10" y1="90.00" x2="463.90" y2="90.00" stroke="#000" stroke-width="1.2"/>
<line x1="444.10" y1="99.05" x2="463.90" y2="99.05" stroke="#000" stroke-width="1.2"/>
<line x1="444.10" y1="108.10" x2="463.90" y2="108.10" stroke="#000" stroke-width="1.2"/>
<line x1="444.10" y1="117.15" x2="463.90" y2="117.15" stroke="#000" stroke-width="1.2"/>
<line x1="444.10" y1="126.20" x2="463.90" y2="126.20" stroke="#000" stroke-width="1.2"/>
<line x1="444.10" y1="135.25" x2="463.90" y2="135.25" stroke="#000" stroke-width="1.2"/>
<line x1="444.10" y1="144.30" x2="463.90" y2="144.30" stroke="#000" stroke-width="1.2"/>
<line x1="444.10" y1="153.35" x2="463.90" y2="153.35" stroke="#000" stroke-width="1.2"/>
<line x1="444.10" y1="162.40" x2="463.90" y2="162.40" stroke="#000" stroke-width="1.2"/>
<line x1="444.10" y1="171.45" x2="463.90" y2="171.45" stroke="#000" stroke-width="1.2"/>
<line x1="444.10" y1="180.50" x2="463.90" y2="180.50" stroke="#000" stroke-width="1.2"/>
<line x1="444.10" y1="189.55" x2="463.90" y2="189.55" stroke="#000" stroke-width="1.2"/>
<line x1="444.10" y1="198.60" x2="463.90" y2="198.60" stroke="#000" stroke-width="1.2"/>
<line x1="444.10" y1="207.65" x2="463.90" y2="207.65" stroke="#000" stroke-width="1.2"/>
<line x1="444.10" y1="216.70" x2="463.90" y2="216.70" stroke="#000" stroke-width="1.2"/>
<line x1="444.70" y1="35.10" x2="444.70" y2="217.30" stroke="#000" stroke-width="1.2"/>
<line x1="454.00" y1="35.10" x2="454.00" y2="217.30" stroke="#000" stroke-width="1.2"/>
<line x1="463.30" y1="35.10" x2="463.30" y2="217.30" stroke="#000" stroke-width="1.2"/>
<text x="448.10" y="33.30" font-size="6.3" fill="#1a1a1a" stroke="#1a1a1a" stroke-width="0.04" text-anchor="end" transform="rotate(90 448.10 33.30)">CD8</text>
<text x="456.40" y="33.30" font-size="6.3" fill="#1a1a1a" stroke="#1a1a1a" stroke-width="0.04" text-anchor="end" transform="rotate(90 456.40 33.30)">CD68</text>
<line x1="444.40" y1="108.00" x2="473.20" y2="108.00" stroke="#d2203a" stroke-width="1.2"/>
<text x="466.00" y="36.20" font-size="6.4" fill="#1a1a1a" stroke="#1a1a1a" stroke-width="0.03" textLength="62.40" lengthAdjust="spacingAndGlyphs" transform="rotate(90 466.00 36.20)">Lymphocyte chemotaxis</text>
<text x="466.80" y="122.60" font-size="6.4" fill="#1a1a1a" stroke="#1a1a1a" stroke-width="0.03" textLength="79.40" lengthAdjust="spacingAndGlyphs" transform="rotate(90 466.80 122.60)">Lymphocyte response element</text>
<rect x="445.10" y="225.90" width="9.10" height="8.80" fill="#f9b90c" stroke="#000" stroke-width="1.0"/>
<rect x="445.10" y="238.20" width="9.10" height="8.80" fill="#1d0b9c" stroke="#000" stroke-width="1.0"/>
<text x="457.20" y="233.30" font-size="7.3" fill="#1a1a1a" stroke="#1a1a1a" stroke-width="0.12" textLength="44.20" lengthAdjust="spacingAndGlyphs">Core enriched</text>
<text x="457.20" y="245.60" font-size="7.3" fill="#1a1a1a" stroke="#1a1a1a" stroke-width="0.12" textLength="55.20" lengthAdjust="spacingAndGlyphs">Not core enriched</text>
<text x="8.80" y="230.70" font-size="11" fill="#000" stroke="#000" stroke-width="0.12" font-weight="bold">C</text>
<rect x="45.80" y="259.80" width="184.30" height="8.50" fill="#f9b800" stroke="#3a3020" stroke-width="0.75"/>
<rect x="45.80" y="268.50" width="100.80" height="7.00" fill="#a9c9f1" stroke="#3a4050" stroke-width="0.75"/>
<rect x="146.60" y="268.50" width="83.50" height="7.00" fill="#ef8231" stroke="#4a3020" stroke-width="0.75"/>
<text x="139.35" y="266.30" font-size="6.0" fill="#1a1a1a" stroke="#1a1a1a" stroke-width="0.02" text-anchor="middle">CD8 Subpopulation</text>
<text x="97.20" y="273.80" font-size="6.1" fill="#1a1a1a" stroke="#1a1a1a" stroke-width="0.02" text-anchor="middle">HLH</text>
<text x="188.35" y="273.80" font-size="6.1" fill="#2a1a10" stroke="#2a1a10" stroke-width="0.02" text-anchor="middle">Sepsis</text>
<rect x="45.90" y="275.80" width="184.14" height="100.92" fill="#000"/>
<rect x="45.90" y="275.80" width="8.97" height="9.01" fill="#800000"/>
<rect x="54.27" y="275.80" width="8.97" height="9.01" fill="#ff1a1a"/>
<rect x="62.64" y="275.80" width="8.97" height="9.01" fill="#000"/>
<rect x="71.01" y="275.80" width="8.97" height="9.01" fill="#000"/>
<rect x="79.38" y="275.80" width="8.97" height="9.01" fill="#000"/>
<rect x="87.75" y="275.80" width="8.97" height="9.01" fill="#000"/>
<rect x="96.12" y="275.80" width="8.97" height="9.01" fill="#700000"/>
<rect x="104.49" y="275.80" width="8.97" height="9.01" fill="#000"/>
<rect x="112.86" y="275.80" width="8.97" height="9.01" fill="#000"/>
<rect x="121.23" y="275.80" width="8.97" height="9.01" fill="#003000"/>
<rect x="129.60" y="275.80" width="8.97" height="9.01" fill="#500000"/>
<rect x="137.97" y="275.80" width="8.97" height="9.01" fill="#ff2020"/>
<rect x="147.20" y="275.80" width="8.97" height="9.01" fill="#180000"/>
<rect x="155.57" y="275.80" width="8.97" height="9.01" fill="#003000"/>
<rect x="163.94" y="275.80" width="8.97" height="9.01" fill="#000"/>
<rect x="172.31" y="275.80" width="8.97" height="9.01" fill="#000"/>
<rect x="180.68" y="275.80" width="8.97" height="9.01" fill="#002800"/>
<rect x="189.05" y="275.80" width="8.97" height="9.01" fill="#004000"/>
<rect x="197.42" y="275.80" width="8.97" height="9.01" fill="#50e020"/>
<rect x="205.79" y="275.80" width="8.97" height="9.01" fill="#003000"/>
<rect x="214.16" y="275.80" width="8.97" height="9.01" fill="#003000"/>
<rect x="222.53" y="275.80" width="8.37" height="9.01" fill="#007000"/>
<rect x="45.90" y="284.21" width="8.97" height="9.01" fill="#000"/>
<rect x="54.27" y="284.21" width="8.97" height="9.01" fill="#600000"/>
<rect x="62.64" y="284.21" width="8.97" height="9.01" fill="#200000"/>
<rect x="71.01" y="284.21" width="8.97" height="9.01" fill="#f01010"/>
<rect x="79.38" y="284.21" width="8.97" height="9.01" fill="#f01010"/>
<rect x="87.75" y="284.21" width="8.97" height="9.01" fill="#00a000"/>
<rect x="96.12" y="284.21" width="8.97" height="9.01" fill="#000"/>
<rect x="104.49" y="284.21" width="8.97" height="9.01" fill="#000"/>
<rect x="112.86" y="284.21" width="8.97" height="9.01" fill="#000"/>
<rect x="121.23" y="284.21" width="8.97" height="9.01" fill="#000"/>
<rect x="129.60" y="284.21" width="8.97" height="9.01" fill="#000"/>
<rect x="137.97" y="284.21" width="8.97" height="9.01" fill="#000"/>
<rect x="147.20" y="284.21" width="8.97" height="9.01" fill="#000"/>
<rect x="155.57" y="284.21" width="8.97" height="9.01" fill="#009000"/>
<rect x="163.94" y="284.21" width="8.97" height="9.01" fill="#000"/>
<rect x="172.31" y="284.21" width="8.97" height="9.01" fill="#006000"/>
<rect x="180.68" y="284.21" width="8.97" height="9.01" fill="#000"/>
<rect x="189.05" y="284.21" width="8.97" height="9.01" fill="#000"/>
<rect x="197.42" y="284.21" width="8.97" height="9.01" fill="#000"/>
<rect x="205.79" y="284.21" width="8.97" height="9.01" fill="#000"/>
<rect x="214.16" y="284.21" width="8.97" height="9.01" fill="#002800"/>
<rect x="222.53" y="284.21" width="8.37" height="9.01" fill="#000"/>
<rect x="45.90" y="292.62" width="8.97" height="9.01" fill="#c00000"/>
<rect x="54.27" y="292.62" width="8.97" height="9.01" fill="#f01010"/>
<rect x="62.64" y="292.62" width="8.97" height="9.01" fill="#000"/>
<rect x="71.01" y="292.62" width="8.97" height="9.01" fill="#f01010"/>
<rect x="79.38" y="292.62" width="8.97" height="9.01" fill="#e01010"/>
<rect x="87.75" y="292.62" width="8.97" height="9.01" fill="#000"/>
<rect x="96.12" y="292.62" width="8.97" height="9.01" fill="#000"/>
<rect x="104.49" y="292.62" width="8.97" height="9.01" fill="#000"/>
<rect x="112.86" y="292.62" width="8.97" height="9.01" fill="#004000"/>
<rect x="121.23" y="292.62" width="8.97" height="9.01" fill="#000"/>
<rect x="129.60" y="292.62" width="8.97" height="9.01" fill="#002000"/>
<rect x="137.97" y="292.62" width="8.97" height="9.01" fill="#000"/>
<rect x="147.20" y="292.62" width="8.97" height="9.01" fill="#000"/>
<rect x="155.57" y="292.62" width="8.97" height="9.01" fill="#30c010"/>
<rect x="163.94" y="292.62" width="8.97" height="9.01" fill="#002000"/>
<rect x="172.31" y="292.62" width="8.97" height="9.01" fill="#006000"/>
<rect x="180.68" y="292.62" width="8.97" height="9.01" fill="#000"/>
<rect x="189.05" y="292.62" width="8.97" height="9.01" fill="#000"/>
<rect x="197.42" y="292.62" width="8.97" height="9.01" fill="#000"/>
<rect x="205.79" y="292.62" width="8.97" height="9.01" fill="#002000"/>
<rect x="214.16" y="292.62" width="8.97" height="9.01" fill="#000"/>
<rect x="222.53" y="292.62" width="8.37" height="9.01" fill="#000"/>
<rect x="45.90" y="301.03" width="8.97" height="9.01" fill="#f01010"/>
<rect x="54.27" y="301.03" width="8.97" height="9.01" fill="#c00000"/>
<rect x="62.64" y="301.03" width="8.97" height="9.01" fill="#000"/>
<rect x="71.01" y="301.03" width="8.97" height="9.01" fill="#f01010"/>
<rect x="79.38" y="301.03" width="8.97" height="9.01" fill="#800000"/>
<rect x="87.75" y="301.03" width="8.97" height="9.01" fill="#000"/>
<rect x="96.12" y="301.03" width="8.97" height="9.01" fill="#000"/>
<rect x="104.49" y="301.03" width="8.97" height="9.01" fill="#000"/>
<rect x="112.86" y="301.03" width="8.97" height="9.01" fill="#004a00"/>
<rect x="121.23" y="301.03" width="8.97" height="9.01" fill="#000"/>
<rect x="129.60" y="301.03" width="8.97" height="9.01" fill="#000"/>
<rect x="137.97" y="301.03" width="8.97" height="9.01" fill="#000"/>
<rect x="147.20" y="301.03" width="8.97" height="9.01" fill="#000"/>
<rect x="155.57" y="301.03" width="8.97" height="9.01" fill="#000"/>
<rect x="163.94" y="301.03" width="8.97" height="9.01" fill="#000"/>
<rect x="172.31" y="301.03" width="8.97" height="9.01" fill="#008000"/>
<rect x="180.68" y="301.03" width="8.97" height="9.01" fill="#000"/>
<rect x="189.05" y="301.03" width="8.97" height="9.01" fill="#004400"/>
<rect x="197.42" y="301.03" width="8.97" height="9.01" fill="#00a000"/>
<rect x="205.79" y="301.03" width="8.97" height="9.01" fill="#00a000"/>
<rect x="214.16" y="301.03" width="8.97" height="9.01" fill="#00a000"/>
<rect x="222.53" y="301.03" width="8.37" height="9.01" fill="#008000"/>
<rect x="45.90" y="309.44" width="8.97" height="9.01" fill="#400000"/>
<rect x="54.27" y="309.44" width="8.97" height="9.01" fill="#f01010"/>
<rect x="62.64" y="309.44" width="8.97" height="9.01" fill="#000"/>
<rect x="71.01" y="309.44" width="8.97" height="9.01" fill="#d00000"/>
<rect x="79.38" y="309.44" width="8.97" height="9.01" fill="#f01010"/>
<rect x="87.75" y="309.44" width="8.97" height="9.01" fill="#000"/>
<rect x="96.12" y="309.44" width="8.97" height="9.01" fill="#000"/>
<rect x="104.49" y="309.44" width="8.97" height="9.01" fill="#500000"/>
<rect x="112.86" y="309.44" width="8.97" height="9.01" fill="#000"/>
<rect x="121.23" y="309.44" width="8.97" height="9.01" fill="#00a000"/>
<rect x="129.60" y="309.44" width="8.97" height="9.01" fill="#000"/>
<rect x="137.97" y="309.44" width="8.97" height="9.01" fill="#000"/>
<rect x="147.20" y="309.44" width="8.97" height="9.01" fill="#000"/>
<rect x="155.57" y="309.44" width="8.97" height="9.01" fill="#002800"/>
<rect x="163.94" y="309.44" width="8.97" height="9.01" fill="#300000"/>
<rect x="172.31" y="309.44" width="8.97" height="9.01" fill="#000"/>
<rect x="180.68" y="309.44" width="8.97" height="9.01" fill="#000"/>
<rect x="189.05" y="309.44" width="8.97" height="9.01" fill="#000"/>
<rect x="197.42" y="309.44" width="8.97" height="9.01" fill="#009000"/>
<rect x="205.79" y="309.44" width="8.97" height="9.01" fill="#009000"/>
<rect x="214.16" y="309.44" width="8.97" height="9.01" fill="#004000"/>
<rect x="222.53" y="309.44" width="8.37" height="9.01" fill="#00a000"/>
<rect x="45.90" y="317.85" width="8.97" height="9.01" fill="#300000"/>
<rect x="54.27" y="317.85" width="8.97" height="9.01" fill="#f01010"/>
<rect x="62.64" y="317.85" width="8.97" height="9.01" fill="#150000"/>
<rect x="71.01" y="317.85" width="8.97" height="9.01" fill="#a00000"/>
<rect x="79.38" y="317.85" width="8.97" height="9.01" fill="#f01010"/>
<rect x="87.75" y="317.85" width="8.97" height="9.01" fill="#003800"/>
<rect x="96.12" y="317.85" width="8.97" height="9.01" fill="#000"/>
<rect x="104.49" y="317.85" width="8.97" height="9.01" fill="#000"/>
<rect x="112.86" y="317.85" width="8.97" height="9.01" fill="#000"/>
<rect x="121.23" y="317.85" width="8.97" height="9.01" fill="#005000"/>
<rect x="129.60" y="317.85" width="8.97" height="9.01" fill="#003000"/>
<rect x="137.97" y="317.85" width="8.97" height="9.01" fill="#000"/>
<rect x="147.20" y="317.85" width="8.97" height="9.01" fill="#000"/>
<rect x="155.57" y="317.85" width="8.97" height="9.01" fill="#000"/>
<rect x="163.94" y="317.85" width="8.97" height="9.01" fill="#000"/>
<rect x="172.31" y="317.85" width="8.97" height="9.01" fill="#001800"/>
<rect x="180.68" y="317.85" width="8.97" height="9.01" fill="#000"/>
<rect x="189.05" y="317.85" width="8.97" height="9.01" fill="#001c00"/>
<rect x="197.42" y="317.85" width="8.97" height="9.01" fill="#003000"/>
<rect x="205.79" y="317.85" width="8.97" height="9.01" fill="#003000"/>
<rect x="214.16" y="317.85" width="8.97" height="9.01" fill="#003000"/>
<rect x="222.53" y="317.85" width="8.37" height="9.01" fill="#002000"/>
<rect x="45.90" y="326.26" width="8.97" height="9.01" fill="#700000"/>
<rect x="54.27" y="326.26" width="8.97" height="9.01" fill="#a00000"/>
<rect x="62.64" y="326.26" width="8.97" height="9.01" fill="#000"/>
<rect x="71.01" y="326.26" width="8.97" height="9.01" fill="#800000"/>
<rect x="79.38" y="326.26" width="8.97" height="9.01" fill="#a00000"/>
<rect x="87.75" y="326.26" width="8.97" height="9.01" fill="#000"/>
<rect x="96.12" y="326.26" width="8.97" height="9.01" fill="#000"/>
<rect x="104.49" y="326.26" width="8.97" height="9.01" fill="#c00000"/>
<rect x="112.86" y="326.26" width="8.97" height="9.01" fill="#001800"/>
<rect x="121.23" y="326.26" width="8.97" height="9.01" fill="#50e020"/>
<rect x="129.60" y="326.26" width="8.97" height="9.01" fill="#000"/>
<rect x="137.97" y="326.26" width="8.97" height="9.01" fill="#000"/>
<rect x="147.20" y="326.26" width="8.97" height="9.01" fill="#000"/>
<rect x="155.57" y="326.26" width="8.97" height="9.01" fill="#000"/>
<rect x="163.94" y="326.26" width="8.97" height="9.01" fill="#000"/>
<rect x="172.31" y="326.26" width="8.97" height="9.01" fill="#003000"/>
<rect x="180.68" y="326.26" width="8.97" height="9.01" fill="#500000"/>
<rect x="189.05" y="326.26" width="8.97" height="9.01" fill="#000"/>
<rect x="197.42" y="326.26" width="8.97" height="9.01" fill="#000"/>
<rect x="205.79" y="326.26" width="8.97" height="9.01" fill="#50e020"/>
<rect x="214.16" y="326.26" width="8.97" height="9.01" fill="#00a000"/>
<rect x="222.53" y="326.26" width="8.37" height="9.01" fill="#000"/>
<rect x="45.90" y="334.67" width="8.97" height="9.01" fill="#900000"/>
<rect x="54.27" y="334.67" width="8.97" height="9.01" fill="#b00000"/>
<rect x="62.64" y="334.67" width="8.97" height="9.01" fill="#000"/>
<rect x="71.01" y="334.67" width="8.97" height="9.01" fill="#d00000"/>
<rect x="79.38" y="334.67" width="8.97" height="9.01" fill="#c00000"/>
<rect x="87.75" y="334.67" width="8.97" height="9.01" fill="#000"/>
<rect x="96.12" y="334.67" width="8.97" height="9.01" fill="#003000"/>
<rect x="104.49" y="334.67" width="8.97" height="9.01" fill="#700000"/>
<rect x="112.86" y="334.67" width="8.97" height="9.01" fill="#003800"/>
<rect x="121.23" y="334.67" width="8.97" height="9.01" fill="#50e020"/>
<rect x="129.60" y="334.67" width="8.97" height="9.01" fill="#001800"/>
<rect x="137.97" y="334.67" width="8.97" height="9.01" fill="#000"/>
<rect x="147.20" y="334.67" width="8.97" height="9.01" fill="#500000"/>
<rect x="155.57" y="334.67" width="8.97" height="9.01" fill="#001000"/>
<rect x="163.94" y="334.67" width="8.97" height="9.01" fill="#000"/>
<rect x="172.31" y="334.67" width="8.97" height="9.01" fill="#008000"/>
<rect x="180.68" y="334.67" width="8.97" height="9.01" fill="#500000"/>
<rect x="189.05" y="334.67" width="8.97" height="9.01" fill="#008000"/>
<rect x="197.42" y="334.67" width="8.97" height="9.01" fill="#000"/>
<rect x="205.79" y="334.67" width="8.97" height="9.01" fill="#000"/>
<rect x="214.16" y="334.67" width="8.97" height="9.01" fill="#000"/>
<rect x="222.53" y="334.67" width="8.37" height="9.01" fill="#006000"/>
<rect x="45.90" y="343.08" width="8.97" height="9.01" fill="#400000"/>
<rect x="54.27" y="343.08" width="8.97" height="9.01" fill="#f01010"/>
<rect x="62.64" y="343.08" width="8.97" height="9.01" fill="#d01010"/>
<rect x="71.01" y="343.08" width="8.97" height="9.01" fill="#000"/>
<rect x="79.38" y="343.08" width="8.97" height="9.01" fill="#f01010"/>
<rect x="87.75" y="343.08" width="8.97" height="9.01" fill="#004000"/>
<rect x="96.12" y="343.08" width="8.97" height="9.01" fill="#000"/>
<rect x="104.49" y="343.08" width="8.97" height="9.01" fill="#d00000"/>
<rect x="112.86" y="343.08" width="8.97" height="9.01" fill="#000"/>
<rect x="121.23" y="343.08" width="8.97" height="9.01" fill="#009000"/>
<rect x="129.60" y="343.08" width="8.97" height="9.01" fill="#002800"/>
<rect x="137.97" y="343.08" width="8.97" height="9.01" fill="#000"/>
<rect x="147.20" y="343.08" width="8.97" height="9.01" fill="#000"/>
<rect x="155.57" y="343.08" width="8.97" height="9.01" fill="#005000"/>
<rect x="163.94" y="343.08" width="8.97" height="9.01" fill="#000"/>
<rect x="172.31" y="343.08" width="8.97" height="9.01" fill="#006000"/>
<rect x="180.68" y="343.08" width="8.97" height="9.01" fill="#500000"/>
<rect x="189.05" y="343.08" width="8.97" height="9.01" fill="#008000"/>
<rect x="197.42" y="343.08" width="8.97" height="9.01" fill="#000"/>
<rect x="205.79" y="343.08" width="8.97" height="9.01" fill="#005000"/>
<rect x="214.16" y="343.08" width="8.97" height="9.01" fill="#009000"/>
<rect x="222.53" y="343.08" width="8.37" height="9.01" fill="#000"/>
<rect x="45.90" y="351.49" width="8.97" height="9.01" fill="#800000"/>
<rect x="54.27" y="351.49" width="8.97" height="9.01" fill="#f01010"/>
<rect x="62.64" y="351.49" width="8.97" height="9.01" fill="#200000"/>
<rect x="71.01" y="351.49" width="8.97" height="9.01" fill="#000"/>
<rect x="79.38" y="351.49" width="8.97" height="9.01" fill="#f01010"/>
<rect x="87.75" y="351.49" width="8.97" height="9.01" fill="#004000"/>
<rect x="96.12" y="351.49" width="8.97" height="9.01" fill="#000"/>
<rect x="104.49" y="351.49" width="8.97" height="9.01" fill="#f01010"/>
<rect x="112.86" y="351.49" width="8.97" height="9.01" fill="#000"/>
<rect x="121.23" y="351.49" width="8.97" height="9.01" fill="#009000"/>
<rect x="129.60" y="351.49" width="8.97" height="9.01" fill="#007000"/>
<rect x="137.97" y="351.49" width="8.97" height="9.01" fill="#000"/>
<rect x="147.20" y="351.49" width="8.97" height="9.01" fill="#000"/>
<rect x="155.57" y="351.49" width="8.97" height="9.01" fill="#000"/>
<rect x="163.94" y="351.49" width="8.97" height="9.01" fill="#000"/>
<rect x="172.31" y="351.49" width="8.97" height="9.01" fill="#20b010"/>
<rect x="180.68" y="351.49" width="8.97" height="9.01" fill="#000"/>
<rect x="189.05" y="351.49" width="8.97" height="9.01" fill="#007000"/>
<rect x="197.42" y="351.49" width="8.97" height="9.01" fill="#000"/>
<rect x="205.79" y="351.49" width="8.97" height="9.01" fill="#009000"/>
<rect x="214.16" y="351.49" width="8.97" height="9.01" fill="#005000"/>
<rect x="222.53" y="351.49" width="8.37" height="9.01" fill="#004000"/>
<rect x="45.90" y="359.90" width="8.97" height="9.01" fill="#000"/>
<rect x="54.27" y="359.90" width="8.97" height="9.01" fill="#d00000"/>
<rect x="62.64" y="359.90" width="8.97" height="9.01" fill="#a00000"/>
<rect x="71.01" y="359.90" width="8.97" height="9.01" fill="#e01010"/>
<rect x="79.38" y="359.90" width="8.97" height="9.01" fill="#e01010"/>
<rect x="87.75" y="359.90" width="8.97" height="9.01" fill="#000"/>
<rect x="96.12" y="359.90" width="8.97" height="9.01" fill="#000"/>
<rect x="104.49" y="359.90" width="8.97" height="9.01" fill="#b00000"/>
<rect x="112.86" y="359.90" width="8.97" height="9.01" fill="#000"/>
<rect x="121.23" y="359.90" width="8.97" height="9.01" fill="#008000"/>
<rect x="129.60" y="359.90" width="8.97" height="9.01" fill="#000"/>
<rect x="137.97" y="359.90" width="8.97" height="9.01" fill="#000"/>
<rect x="147.20" y="359.90" width="8.97" height="9.01" fill="#000"/>
<rect x="155.57" y="359.90" width="8.97" height="9.01" fill="#008000"/>
<rect x="163.94" y="359.90" width="8.97" height="9.01" fill="#000"/>
<rect x="172.31" y="359.90" width="8.97" height="9.01" fill="#30c010"/>
<rect x="180.68" y="359.90" width="8.97" height="9.01" fill="#000"/>
<rect x="189.05" y="359.90" width="8.97" height="9.01" fill="#007000"/>
<rect x="197.42" y="359.90" width="8.97" height="9.01" fill="#000"/>
<rect x="205.79" y="359.90" width="8.97" height="9.01" fill="#20b010"/>
<rect x="214.16" y="359.90" width="8.97" height="9.01" fill="#009000"/>
<rect x="222.53" y="359.90" width="8.37" height="9.01" fill="#20b010"/>
<rect x="45.90" y="368.31" width="8.97" height="8.41" fill="#f01010"/>
<rect x="54.27" y="368.31" width="8.97" height="8.41" fill="#b00000"/>
<rect x="62.64" y="368.31" width="8.97" height="8.41" fill="#000"/>
<rect x="71.01" y="368.31" width="8.97" height="8.41" fill="#f01010"/>
<rect x="79.38" y="368.31" width="8.97" height="8.41" fill="#700000"/>
<rect x="87.75" y="368.31" width="8.97" height="8.41" fill="#000"/>
<rect x="96.12" y="368.31" width="8.97" height="8.41" fill="#20c010"/>
<rect x="104.49" y="368.31" width="8.97" height="8.41" fill="#30d010"/>
<rect x="112.86" y="368.31" width="8.97" height="8.41" fill="#20c010"/>
<rect x="121.23" y="368.31" width="8.97" height="8.41" fill="#40e020"/>
<rect x="129.60" y="368.31" width="8.97" height="8.41" fill="#000"/>
<rect x="137.97" y="368.31" width="8.97" height="8.41" fill="#000"/>
<rect x="147.20" y="368.31" width="8.97" height="8.41" fill="#000"/>
<rect x="155.57" y="368.31" width="8.97" height="8.41" fill="#000"/>
<rect x="163.94" y="368.31" width="8.97" height="8.41" fill="#000"/>
<rect x="172.31" y="368.31" width="8.97" height="8.41" fill="#008000"/>
<rect x="180.68" y="368.31" width="8.97" height="8.41" fill="#000"/>
<rect x="189.05" y="368.31" width="8.97" height="8.41" fill="#007000"/>
<rect x="197.42" y="368.31" width="8.97" height="8.41" fill="#000"/>
<rect x="205.79" y="368.31" width="8.97" height="8.41" fill="#000"/>
<rect x="214.16" y="368.31" width="8.97" height="8.41" fill="#003000"/>
<rect x="222.53" y="368.31" width="8.37" height="8.41" fill="#000"/>
<line x1="146.70" y1="268.40" x2="146.70" y2="376.50" stroke="#f0a000" stroke-width="1.1"/>
<text x="234.00" y="281.70" font-size="6.2" fill="#1a1a1a" stroke="#1a1a1a" stroke-width="0.06">CXCR6</text>
<text x="234.00" y="290.12" font-size="6.2" fill="#1a1a1a" stroke="#1a1a1a" stroke-width="0.06">CCR5</text>
<text x="234.00" y="298.52" font-size="6.2" fill="#1a1a1a" stroke="#1a1a1a" stroke-width="0.06">CIITA</text>
<text x="234.00" y="306.94" font-size="6.2" fill="#1a1a1a" stroke="#1a1a1a" stroke-width="0.06">HLA-DRA</text>
<text x="234.00" y="315.34" font-size="6.2" fill="#1a1a1a" stroke="#1a1a1a" stroke-width="0.06">CD38</text>
<text x="234.00" y="323.75" font-size="6.2" fill="#1a1a1a" stroke="#1a1a1a" stroke-width="0.06">LAG3</text>
<text x="234.00" y="332.17" font-size="6.2" fill="#1a1a1a" stroke="#1a1a1a" stroke-width="0.06">NKG7</text>
<text x="234.00" y="340.57" font-size="6.2" fill="#1a1a1a" stroke="#1a1a1a" stroke-width="0.06">GZMA</text>
<text x="234.00" y="348.99" font-size="6.2" fill="#1a1a1a" stroke="#1a1a1a" stroke-width="0.06">PRF1</text>
<text x="234.00" y="357.39" font-size="6.2" fill="#1a1a1a" stroke="#1a1a1a" stroke-width="0.06">IFNG</text>
<text x="234.00" y="365.81" font-size="6.2" fill="#1a1a1a" stroke="#1a1a1a" stroke-width="0.06">GZMB</text>
<text x="234.00" y="374.21" font-size="6.2" fill="#1a1a1a" stroke="#1a1a1a" stroke-width="0.06">GZMK</text>
<line x1="39.40" y1="296.82" x2="45.90" y2="296.82" stroke="#111" stroke-width="1.0"/>
<line x1="39.40" y1="305.24" x2="45.90" y2="305.24" stroke="#111" stroke-width="1.0"/>
<line x1="39.40" y1="296.32" x2="39.40" y2="305.74" stroke="#111" stroke-width="1.0"/>
<line x1="42.90" y1="313.64" x2="45.90" y2="313.64" stroke="#111" stroke-width="1.0"/>
<line x1="42.90" y1="322.06" x2="45.90" y2="322.06" stroke="#111" stroke-width="1.0"/>
<line x1="42.90" y1="313.14" x2="42.90" y2="322.56" stroke="#111" stroke-width="1.0"/>
<line x1="38.20" y1="301.03" x2="39.40" y2="301.03" stroke="#111" stroke-width="1.0"/>
<line x1="38.20" y1="317.85" x2="42.90" y2="317.85" stroke="#111" stroke-width="1.0"/>
<line x1="38.20" y1="300.53" x2="38.20" y2="318.35" stroke="#111" stroke-width="1.0"/>
<line x1="37.20" y1="288.42" x2="45.90" y2="288.42" stroke="#111" stroke-width="1.0"/>
<line x1="37.20" y1="309.44" x2="38.20" y2="309.44" stroke="#111" stroke-width="1.0"/>
<line x1="37.20" y1="287.92" x2="37.20" y2="309.94" stroke="#111" stroke-width="1.0"/>
<line x1="39.80" y1="330.47" x2="45.90" y2="330.47" stroke="#111" stroke-width="1.0"/>
<line x1="39.80" y1="338.88" x2="45.90" y2="338.88" stroke="#111" stroke-width="1.0"/>
<line x1="39.80" y1="329.97" x2="39.80" y2="339.38" stroke="#111" stroke-width="1.0"/>
<line x1="42.50" y1="347.29" x2="45.90" y2="347.29" stroke="#111" stroke-width="1.0"/>
<line x1="42.50" y1="355.69" x2="45.90" y2="355.69" stroke="#111" stroke-width="1.0"/>
<line x1="42.50" y1="346.79" x2="42.50" y2="356.19" stroke="#111" stroke-width="1.0"/>
<line x1="41.00" y1="351.49" x2="42.50" y2="351.49" stroke="#111" stroke-width="1.0"/>
<line x1="41.00" y1="364.11" x2="45.90" y2="364.11" stroke="#111" stroke-width="1.0"/>
<line x1="41.00" y1="350.99" x2="41.00" y2="364.61" stroke="#111" stroke-width="1.0"/>
<line x1="38.40" y1="334.67" x2="39.80" y2="334.67" stroke="#111" stroke-width="1.0"/>
<line x1="38.40" y1="357.80" x2="41.00" y2="357.80" stroke="#111" stroke-width="1.0"/>
<line x1="38.40" y1="334.17" x2="38.40" y2="358.30" stroke="#111" stroke-width="1.0"/>
<line x1="32.70" y1="298.93" x2="37.20" y2="298.93" stroke="#111" stroke-width="1.0"/>
<line x1="32.70" y1="346.23" x2="38.40" y2="346.23" stroke="#111" stroke-width="1.0"/>
<line x1="32.70" y1="298.43" x2="32.70" y2="346.73" stroke="#111" stroke-width="1.0"/>
<line x1="26.30" y1="322.58" x2="32.70" y2="322.58" stroke="#111" stroke-width="1.0"/>
<line x1="26.30" y1="372.51" x2="45.90" y2="372.51" stroke="#111" stroke-width="1.0"/>
<line x1="26.30" y1="322.08" x2="26.30" y2="373.01" stroke="#111" stroke-width="1.0"/>
<line x1="13.00" y1="280.00" x2="45.90" y2="280.00" stroke="#111" stroke-width="1.0"/>
<line x1="13.00" y1="347.55" x2="26.30" y2="347.55" stroke="#111" stroke-width="1.0"/>
<line x1="13.00" y1="279.50" x2="13.00" y2="348.05" stroke="#111" stroke-width="1.0"/>
<line x1="12.60" y1="276.10" x2="42.40" y2="276.10" stroke="#111" stroke-width="1.1"/>
<line x1="13.00" y1="273.60" x2="13.00" y2="276.60" stroke="#111" stroke-width="1.0"/>
<line x1="27.60" y1="273.60" x2="27.60" y2="276.60" stroke="#111" stroke-width="1.0"/>
<line x1="42.00" y1="273.60" x2="42.00" y2="276.60" stroke="#111" stroke-width="1.0"/>
<text x="15.00" y="271.40" font-size="6.1" fill="#1a1a1a" stroke="#1a1a1a" stroke-width="0.13" textLength="29.80" lengthAdjust="spacingAndGlyphs" transform="rotate(-90 15.00 271.40)">0.3860000</text>
<text x="29.80" y="271.40" font-size="6.1" fill="#1a1a1a" stroke="#1a1a1a" stroke-width="0.13" textLength="34.00" lengthAdjust="spacingAndGlyphs" transform="rotate(-90 29.80 271.40)">0.6830045</text>
<text x="44.20" y="271.40" font-size="6.0" fill="#1a1a1a" stroke="#1a1a1a" stroke-width="0.05" transform="rotate(-90 44.20 271.40)">1.0</text>
<rect x="45.80" y="381.00" width="184.30" height="6.20" fill="url(#cbL)"/>
<text x="44.60" y="395.60" font-size="6.9" fill="#1a1a1a" stroke="#1a1a1a" stroke-width="0.17" text-anchor="middle">−2.0</text>
<text x="137.95" y="395.60" font-size="6.9" fill="#1a1a1a" stroke="#1a1a1a" stroke-width="0.17" text-anchor="middle">0.0</text>
<text x="230.30" y="395.60" font-size="6.9" fill="#1a1a1a" stroke="#1a1a1a" stroke-width="0.17" text-anchor="middle">2.0</text>
<rect x="307.80" y="259.80" width="168.40" height="8.50" fill="#f9b800" stroke="#3a3020" stroke-width="0.75"/>
<rect x="307.80" y="268.50" width="100.80" height="7.00" fill="#a9c9f1" stroke="#3a4050" stroke-width="0.75"/>
<rect x="408.60" y="268.50" width="67.60" height="7.00" fill="#ef8231" stroke="#4a3020" stroke-width="0.75"/>
<text x="392.00" y="266.30" font-size="6.0" fill="#1a1a1a" stroke="#1a1a1a" stroke-width="0.02" text-anchor="middle">CD68 Subpopulation</text>
<text x="359.20" y="273.80" font-size="6.1" fill="#1a1a1a" stroke="#1a1a1a" stroke-width="0.02" text-anchor="middle">HLH</text>
<text x="442.40" y="273.80" font-size="6.1" fill="#2a1a10" stroke="#2a1a10" stroke-width="0.02" text-anchor="middle">Sepsis</text>
<rect x="307.90" y="275.90" width="168.40" height="100.68" fill="#000"/>
<rect x="307.90" y="275.90" width="9.02" height="8.99" fill="#000"/>
<rect x="316.32" y="275.90" width="9.02" height="8.99" fill="#000"/>
<rect x="324.74" y="275.90" width="9.02" height="8.99" fill="#ff1a1a"/>
<rect x="333.16" y="275.90" width="9.02" height="8.99" fill="#e01010"/>
<rect x="341.58" y="275.90" width="9.02" height="8.99" fill="#c00000"/>
<rect x="350.00" y="275.90" width="9.02" height="8.99" fill="#000"/>
<rect x="358.42" y="275.90" width="9.02" height="8.99" fill="#000"/>
<rect x="366.84" y="275.90" width="9.02" height="8.99" fill="#001000"/>
<rect x="375.26" y="275.90" width="9.02" height="8.99" fill="#000"/>
<rect x="383.68" y="275.90" width="9.02" height="8.99" fill="#000"/>
<rect x="392.10" y="275.90" width="9.02" height="8.99" fill="#000"/>
<rect x="400.52" y="275.90" width="9.02" height="8.99" fill="#000"/>
<rect x="409.20" y="275.90" width="9.02" height="8.99" fill="#000"/>
<rect x="417.62" y="275.90" width="9.02" height="8.99" fill="#000"/>
<rect x="426.04" y="275.90" width="9.02" height="8.99" fill="#000"/>
<rect x="434.46" y="275.90" width="9.02" height="8.99" fill="#000"/>
<rect x="442.88" y="275.90" width="9.02" height="8.99" fill="#000"/>
<rect x="451.30" y="275.90" width="9.02" height="8.99" fill="#000"/>
<rect x="459.72" y="275.90" width="9.02" height="8.99" fill="#000"/>
<rect x="468.14" y="275.90" width="8.42" height="8.99" fill="#000"/>
<rect x="307.90" y="284.29" width="9.02" height="8.99" fill="#000"/>
<rect x="316.32" y="284.29" width="9.02" height="8.99" fill="#000"/>
<rect x="324.74" y="284.29" width="9.02" height="8.99" fill="#600000"/>
<rect x="333.16" y="284.29" width="9.02" height="8.99" fill="#e01010"/>
<rect x="341.58" y="284.29" width="9.02" height="8.99" fill="#f01010"/>
<rect x="350.00" y="284.29" width="9.02" height="8.99" fill="#f01010"/>
<rect x="358.42" y="284.29" width="9.02" height="8.99" fill="#000"/>
<rect x="366.84" y="284.29" width="9.02" height="8.99" fill="#003000"/>
<rect x="375.26" y="284.29" width="9.02" height="8.99" fill="#003800"/>
<rect x="383.68" y="284.29" width="9.02" height="8.99" fill="#002800"/>
<rect x="392.10" y="284.29" width="9.02" height="8.99" fill="#000"/>
<rect x="400.52" y="284.29" width="9.02" height="8.99" fill="#002800"/>
<rect x="409.20" y="284.29" width="9.02" height="8.99" fill="#003000"/>
<rect x="417.62" y="284.29" width="9.02" height="8.99" fill="#000"/>
<rect x="426.04" y="284.29" width="9.02" height="8.99" fill="#000"/>
<rect x="434.46" y="284.29" width="9.02" height="8.99" fill="#003000"/>
<rect x="442.88" y="284.29" width="9.02" height="8.99" fill="#004000"/>
<rect x="451.30" y="284.29" width="9.02" height="8.99" fill="#003800"/>
<rect x="459.72" y="284.29" width="9.02" height="8.99" fill="#002800"/>
<rect x="468.14" y="284.29" width="8.42" height="8.99" fill="#004000"/>
<rect x="307.90" y="292.68" width="9.02" height="8.99" fill="#200000"/>
<rect x="316.32" y="292.68" width="9.02" height="8.99" fill="#000"/>
<rect x="324.74" y="292.68" width="9.02" height="8.99" fill="#500000"/>
<rect x="333.16" y="292.68" width="9.02" height="8.99" fill="#000"/>
<rect x="341.58" y="292.68" width="9.02" height="8.99" fill="#f01010"/>
<rect x="350.00" y="292.68" width="9.02" height="8.99" fill="#200000"/>
<rect x="358.42" y="292.68" width="9.02" height="8.99" fill="#000"/>
<rect x="366.84" y="292.68" width="9.02" height="8.99" fill="#002000"/>
<rect x="375.26" y="292.68" width="9.02" height="8.99" fill="#000"/>
<rect x="383.68" y="292.68" width="9.02" height="8.99" fill="#000"/>
<rect x="392.10" y="292.68" width="9.02" height="8.99" fill="#002800"/>
<rect x="400.52" y="292.68" width="9.02" height="8.99" fill="#000"/>
<rect x="409.20" y="292.68" width="9.02" height="8.99" fill="#000"/>
<rect x="417.62" y="292.68" width="9.02" height="8.99" fill="#000"/>
<rect x="426.04" y="292.68" width="9.02" height="8.99" fill="#000"/>
<rect x="434.46" y="292.68" width="9.02" height="8.99" fill="#000"/>
<rect x="442.88" y="292.68" width="9.02" height="8.99" fill="#000"/>
<rect x="451.30" y="292.68" width="9.02" height="8.99" fill="#000"/>
<rect x="459.72" y="292.68" width="9.02" height="8.99" fill="#000"/>
<rect x="468.14" y="292.68" width="8.42" height="8.99" fill="#000"/>
<rect x="307.90" y="301.07" width="9.02" height="8.99" fill="#800000"/>
<rect x="316.32" y="301.07" width="9.02" height="8.99" fill="#000"/>
<rect x="324.74" y="301.07" width="9.02" height="8.99" fill="#300000"/>
<rect x="333.16" y="301.07" width="9.02" height="8.99" fill="#000"/>
<rect x="341.58" y="301.07" width="9.02" height="8.99" fill="#f01010"/>
<rect x="350.00" y="301.07" width="9.02" height="8.99" fill="#000"/>
<rect x="358.42" y="301.07" width="9.02" height="8.99" fill="#004000"/>
<rect x="366.84" y="301.07" width="9.02" height="8.99" fill="#000"/>
<rect x="375.26" y="301.07" width="9.02" height="8.99" fill="#003000"/>
<rect x="383.68" y="301.07" width="9.02" height="8.99" fill="#004000"/>
<rect x="392.10" y="301.07" width="9.02" height="8.99" fill="#000"/>
<rect x="400.52" y="301.07" width="9.02" height="8.99" fill="#004000"/>
<rect x="409.20" y="301.07" width="9.02" height="8.99" fill="#004800"/>
<rect x="417.62" y="301.07" width="9.02" height="8.99" fill="#004000"/>
<rect x="426.04" y="301.07" width="9.02" height="8.99" fill="#000"/>
<rect x="434.46" y="301.07" width="9.02" height="8.99" fill="#000"/>
<rect x="442.88" y="301.07" width="9.02" height="8.99" fill="#000"/>
<rect x="451.30" y="301.07" width="9.02" height="8.99" fill="#000"/>
<rect x="459.72" y="301.07" width="9.02" height="8.99" fill="#002800"/>
<rect x="468.14" y="301.07" width="8.42" height="8.99" fill="#000"/>
<rect x="307.90" y="309.46" width="9.02" height="8.99" fill="#d00000"/>
<rect x="316.32" y="309.46" width="9.02" height="8.99" fill="#000"/>
<rect x="324.74" y="309.46" width="9.02" height="8.99" fill="#000"/>
<rect x="333.16" y="309.46" width="9.02" height="8.99" fill="#000"/>
<rect x="341.58" y="309.46" width="9.02" height="8.99" fill="#f01010"/>
<rect x="350.00" y="309.46" width="9.02" height="8.99" fill="#000"/>
<rect x="358.42" y="309.46" width="9.02" height="8.99" fill="#20b010"/>
<rect x="366.84" y="309.46" width="9.02" height="8.99" fill="#000"/>
<rect x="375.26" y="309.46" width="9.02" height="8.99" fill="#000"/>
<rect x="383.68" y="309.46" width="9.02" height="8.99" fill="#00a000"/>
<rect x="392.10" y="309.46" width="9.02" height="8.99" fill="#000"/>
<rect x="400.52" y="309.46" width="9.02" height="8.99" fill="#000"/>
<rect x="409.20" y="309.46" width="9.02" height="8.99" fill="#002800"/>
<rect x="417.62" y="309.46" width="9.02" height="8.99" fill="#000"/>
<rect x="426.04" y="309.46" width="9.02" height="8.99" fill="#000"/>
<rect x="434.46" y="309.46" width="9.02" height="8.99" fill="#006000"/>
<rect x="442.88" y="309.46" width="9.02" height="8.99" fill="#000"/>
<rect x="451.30" y="309.46" width="9.02" height="8.99" fill="#000"/>
<rect x="459.72" y="309.46" width="9.02" height="8.99" fill="#007000"/>
<rect x="468.14" y="309.46" width="8.42" height="8.99" fill="#003800"/>
<rect x="307.90" y="317.85" width="9.02" height="8.99" fill="#400000"/>
<rect x="316.32" y="317.85" width="9.02" height="8.99" fill="#400000"/>
<rect x="324.74" y="317.85" width="9.02" height="8.99" fill="#200000"/>
<rect x="333.16" y="317.85" width="9.02" height="8.99" fill="#500000"/>
<rect x="341.58" y="317.85" width="9.02" height="8.99" fill="#e01010"/>
<rect x="350.00" y="317.85" width="9.02" height="8.99" fill="#700000"/>
<rect x="358.42" y="317.85" width="9.02" height="8.99" fill="#000"/>
<rect x="366.84" y="317.85" width="9.02" height="8.99" fill="#000"/>
<rect x="375.26" y="317.85" width="9.02" height="8.99" fill="#006000"/>
<rect x="383.68" y="317.85" width="9.02" height="8.99" fill="#006000"/>
<rect x="392.10" y="317.85" width="9.02" height="8.99" fill="#500000"/>
<rect x="400.52" y="317.85" width="9.02" height="8.99" fill="#30c010"/>
<rect x="409.20" y="317.85" width="9.02" height="8.99" fill="#30d010"/>
<rect x="417.62" y="317.85" width="9.02" height="8.99" fill="#180000"/>
<rect x="426.04" y="317.85" width="9.02" height="8.99" fill="#000"/>
<rect x="434.46" y="317.85" width="9.02" height="8.99" fill="#003000"/>
<rect x="442.88" y="317.85" width="9.02" height="8.99" fill="#000"/>
<rect x="451.30" y="317.85" width="9.02" height="8.99" fill="#20b010"/>
<rect x="459.72" y="317.85" width="9.02" height="8.99" fill="#006000"/>
<rect x="468.14" y="317.85" width="8.42" height="8.99" fill="#30d010"/>
<rect x="307.90" y="326.24" width="9.02" height="8.99" fill="#400000"/>
<rect x="316.32" y="326.24" width="9.02" height="8.99" fill="#400000"/>
<rect x="324.74" y="326.24" width="9.02" height="8.99" fill="#180000"/>
<rect x="333.16" y="326.24" width="9.02" height="8.99" fill="#500000"/>
<rect x="341.58" y="326.24" width="9.02" height="8.99" fill="#500000"/>
<rect x="350.00" y="326.24" width="9.02" height="8.99" fill="#200000"/>
<rect x="358.42" y="326.24" width="9.02" height="8.99" fill="#000"/>
<rect x="366.84" y="326.24" width="9.02" height="8.99" fill="#000"/>
<rect x="375.26" y="326.24" width="9.02" height="8.99" fill="#000"/>
<rect x="383.68" y="326.24" width="9.02" height="8.99" fill="#000"/>
<rect x="392.10" y="326.24" width="9.02" height="8.99" fill="#000"/>
<rect x="400.52" y="326.24" width="9.02" height="8.99" fill="#000"/>
<rect x="409.20" y="326.24" width="9.02" height="8.99" fill="#40e020"/>
<rect x="417.62" y="326.24" width="9.02" height="8.99" fill="#180000"/>
<rect x="426.04" y="326.24" width="9.02" height="8.99" fill="#000"/>
<rect x="434.46" y="326.24" width="9.02" height="8.99" fill="#000"/>
<rect x="442.88" y="326.24" width="9.02" height="8.99" fill="#003000"/>
<rect x="451.30" y="326.24" width="9.02" height="8.99" fill="#000"/>
<rect x="459.72" y="326.24" width="9.02" height="8.99" fill="#20b010"/>
<rect x="468.14" y="326.24" width="8.42" height="8.99" fill="#000"/>
<rect x="307.90" y="334.63" width="9.02" height="8.99" fill="#000"/>
<rect x="316.32" y="334.63" width="9.02" height="8.99" fill="#300000"/>
<rect x="324.74" y="334.63" width="9.02" height="8.99" fill="#ff1a1a"/>
<rect x="333.16" y="334.63" width="9.02" height="8.99" fill="#40e020"/>
<rect x="341.58" y="334.63" width="9.02" height="8.99" fill="#000"/>
<rect x="350.00" y="334.63" width="9.02" height="8.99" fill="#000"/>
<rect x="358.42" y="334.63" width="9.02" height="8.99" fill="#500000"/>
<rect x="366.84" y="334.63" width="9.02" height="8.99" fill="#400000"/>
<rect x="375.26" y="334.63" width="9.02" height="8.99" fill="#30d010"/>
<rect x="383.68" y="334.63" width="9.02" height="8.99" fill="#40e020"/>
<rect x="392.10" y="334.63" width="9.02" height="8.99" fill="#000"/>
<rect x="400.52" y="334.63" width="9.02" height="8.99" fill="#000"/>
<rect x="409.20" y="334.63" width="9.02" height="8.99" fill="#500000"/>
<rect x="417.62" y="334.63" width="9.02" height="8.99" fill="#003000"/>
<rect x="426.04" y="334.63" width="9.02" height="8.99" fill="#004000"/>
<rect x="434.46" y="334.63" width="9.02" height="8.99" fill="#40e020"/>
<rect x="442.88" y="334.63" width="9.02" height="8.99" fill="#000"/>
<rect x="451.30" y="334.63" width="9.02" height="8.99" fill="#005000"/>
<rect x="459.72" y="334.63" width="9.02" height="8.99" fill="#000"/>
<rect x="468.14" y="334.63" width="8.42" height="8.99" fill="#000"/>
<rect x="307.90" y="343.02" width="9.02" height="8.99" fill="#000"/>
<rect x="316.32" y="343.02" width="9.02" height="8.99" fill="#500000"/>
<rect x="324.74" y="343.02" width="9.02" height="8.99" fill="#00a000"/>
<rect x="333.16" y="343.02" width="9.02" height="8.99" fill="#500000"/>
<rect x="341.58" y="343.02" width="9.02" height="8.99" fill="#40e020"/>
<rect x="350.00" y="343.02" width="9.02" height="8.99" fill="#000"/>
<rect x="358.42" y="343.02" width="9.02" height="8.99" fill="#000"/>
<rect x="366.84" y="343.02" width="9.02" height="8.99" fill="#000"/>
<rect x="375.26" y="343.02" width="9.02" height="8.99" fill="#d00000"/>
<rect x="383.68" y="343.02" width="9.02" height="8.99" fill="#000"/>
<rect x="392.10" y="343.02" width="9.02" height="8.99" fill="#000"/>
<rect x="400.52" y="343.02" width="9.02" height="8.99" fill="#200000"/>
<rect x="409.20" y="343.02" width="9.02" height="8.99" fill="#000"/>
<rect x="417.62" y="343.02" width="9.02" height="8.99" fill="#004000"/>
<rect x="426.04" y="343.02" width="9.02" height="8.99" fill="#40e020"/>
<rect x="434.46" y="343.02" width="9.02" height="8.99" fill="#40e020"/>
<rect x="442.88" y="343.02" width="9.02" height="8.99" fill="#f01010"/>
<rect x="451.30" y="343.02" width="9.02" height="8.99" fill="#000"/>
<rect x="459.72" y="343.02" width="9.02" height="8.99" fill="#000"/>
<rect x="468.14" y="343.02" width="8.42" height="8.99" fill="#002800"/>
<rect x="307.90" y="351.41" width="9.02" height="8.99" fill="#000"/>
<rect x="316.32" y="351.41" width="9.02" height="8.99" fill="#000"/>
<rect x="324.74" y="351.41" width="9.02" height="8.99" fill="#000"/>
<rect x="333.16" y="351.41" width="9.02" height="8.99" fill="#f01010"/>
<rect x="341.58" y="351.41" width="9.02" height="8.99" fill="#000"/>
<rect x="350.00" y="351.41" width="9.02" height="8.99" fill="#f01010"/>
<rect x="358.42" y="351.41" width="9.02" height="8.99" fill="#000"/>
<rect x="366.84" y="351.41" width="9.02" height="8.99" fill="#000"/>
<rect x="375.26" y="351.41" width="9.02" height="8.99" fill="#000"/>
<rect x="383.68" y="351.41" width="9.02" height="8.99" fill="#000"/>
<rect x="392.10" y="351.41" width="9.02" height="8.99" fill="#00a000"/>
<rect x="400.52" y="351.41" width="9.02" height="8.99" fill="#000"/>
<rect x="409.20" y="351.41" width="9.02" height="8.99" fill="#002800"/>
<rect x="417.62" y="351.41" width="9.02" height="8.99" fill="#000"/>
<rect x="426.04" y="351.41" width="9.02" height="8.99" fill="#40e020"/>
<rect x="434.46" y="351.41" width="9.02" height="8.99" fill="#000"/>
<rect x="442.88" y="351.41" width="9.02" height="8.99" fill="#000"/>
<rect x="451.30" y="351.41" width="9.02" height="8.99" fill="#006000"/>
<rect x="459.72" y="351.41" width="9.02" height="8.99" fill="#000"/>
<rect x="468.14" y="351.41" width="8.42" height="8.99" fill="#000"/>
<rect x="307.90" y="359.80" width="9.02" height="8.99" fill="#000"/>
<rect x="316.32" y="359.80" width="9.02" height="8.99" fill="#000"/>
<rect x="324.74" y="359.80" width="9.02" height="8.99" fill="#000"/>
<rect x="333.16" y="359.80" width="9.02" height="8.99" fill="#180000"/>
<rect x="341.58" y="359.80" width="9.02" height="8.99" fill="#40e020"/>
<rect x="350.00" y="359.80" width="9.02" height="8.99" fill="#000"/>
<rect x="358.42" y="359.80" width="9.02" height="8.99" fill="#000"/>
<rect x="366.84" y="359.80" width="9.02" height="8.99" fill="#ff1a1a"/>
<rect x="375.26" y="359.80" width="9.02" height="8.99" fill="#000"/>
<rect x="383.68" y="359.80" width="9.02" height="8.99" fill="#000"/>
<rect x="392.10" y="359.80" width="9.02" height="8.99" fill="#001000"/>
<rect x="400.52" y="359.80" width="9.02" height="8.99" fill="#000"/>
<rect x="409.20" y="359.80" width="9.02" height="8.99" fill="#002000"/>
<rect x="417.62" y="359.80" width="9.02" height="8.99" fill="#b00000"/>
<rect x="426.04" y="359.80" width="9.02" height="8.99" fill="#40e020"/>
<rect x="434.46" y="359.80" width="9.02" height="8.99" fill="#000"/>
<rect x="442.88" y="359.80" width="9.02" height="8.99" fill="#000"/>
<rect x="451.30" y="359.80" width="9.02" height="8.99" fill="#005000"/>
<rect x="459.72" y="359.80" width="9.02" height="8.99" fill="#000"/>
<rect x="468.14" y="359.80" width="8.42" height="8.99" fill="#002800"/>
<rect x="307.90" y="368.19" width="9.02" height="8.39" fill="#000"/>
<rect x="316.32" y="368.19" width="9.02" height="8.39" fill="#000"/>
<rect x="324.74" y="368.19" width="9.02" height="8.39" fill="#000"/>
<rect x="333.16" y="368.19" width="9.02" height="8.39" fill="#000"/>
<rect x="341.58" y="368.19" width="9.02" height="8.39" fill="#000"/>
<rect x="350.00" y="368.19" width="9.02" height="8.39" fill="#000"/>
<rect x="358.42" y="368.19" width="9.02" height="8.39" fill="#300000"/>
<rect x="366.84" y="368.19" width="9.02" height="8.39" fill="#004000"/>
<rect x="375.26" y="368.19" width="9.02" height="8.39" fill="#000"/>
<rect x="383.68" y="368.19" width="9.02" height="8.39" fill="#000"/>
<rect x="392.10" y="368.19" width="9.02" height="8.39" fill="#40e020"/>
<rect x="400.52" y="368.19" width="9.02" height="8.39" fill="#ff2020"/>
<rect x="409.20" y="368.19" width="9.02" height="8.39" fill="#000"/>
<rect x="417.62" y="368.19" width="9.02" height="8.39" fill="#40e020"/>
<rect x="426.04" y="368.19" width="9.02" height="8.39" fill="#40e020"/>
<rect x="434.46" y="368.19" width="9.02" height="8.39" fill="#000"/>
<rect x="442.88" y="368.19" width="9.02" height="8.39" fill="#000"/>
<rect x="451.30" y="368.19" width="9.02" height="8.39" fill="#000"/>
<rect x="459.72" y="368.19" width="9.02" height="8.39" fill="#000"/>
<rect x="468.14" y="368.19" width="8.42" height="8.39" fill="#000"/>
<line x1="408.60" y1="268.40" x2="408.60" y2="376.50" stroke="#f0a000" stroke-width="1.1"/>
<text x="480.80" y="281.79" font-size="6.2" fill="#1a1a1a" stroke="#1a1a1a" stroke-width="0.06">CXCL9</text>
<text x="480.80" y="290.18" font-size="6.2" fill="#1a1a1a" stroke="#1a1a1a" stroke-width="0.06">CXCL10</text>
<text x="480.80" y="298.57" font-size="6.2" fill="#1a1a1a" stroke="#1a1a1a" stroke-width="0.06">IDO1</text>
<text x="480.80" y="306.96" font-size="6.2" fill="#1a1a1a" stroke="#1a1a1a" stroke-width="0.06">CD38</text>
<text x="480.80" y="315.35" font-size="6.2" fill="#1a1a1a" stroke="#1a1a1a" stroke-width="0.06">CIITA</text>
<text x="480.80" y="323.74" font-size="6.2" fill="#1a1a1a" stroke="#1a1a1a" stroke-width="0.06">STAT1</text>
<text x="480.80" y="332.13" font-size="6.2" fill="#1a1a1a" stroke="#1a1a1a" stroke-width="0.06">HLA-DRA</text>
<text x="480.80" y="340.52" font-size="6.2" fill="#1a1a1a" stroke="#1a1a1a" stroke-width="0.06">NKG7</text>
<text x="480.80" y="348.91" font-size="6.2" fill="#1a1a1a" stroke="#1a1a1a" stroke-width="0.06">CCR5</text>
<text x="480.80" y="357.31" font-size="6.2" fill="#1a1a1a" stroke="#1a1a1a" stroke-width="0.06">PRF1</text>
<text x="480.80" y="365.69" font-size="6.2" fill="#1a1a1a" stroke="#1a1a1a" stroke-width="0.06">GZMA</text>
<text x="480.80" y="374.08" font-size="6.2" fill="#1a1a1a" stroke="#1a1a1a" stroke-width="0.06">GZMK</text>
<line x1="300.70" y1="280.09" x2="307.90" y2="280.09" stroke="#111" stroke-width="1.0"/>
<line x1="300.70" y1="288.48" x2="307.90" y2="288.48" stroke="#111" stroke-width="1.0"/>
<line x1="300.70" y1="279.59" x2="300.70" y2="288.98" stroke="#111" stroke-width="1.0"/>
<line x1="304.70" y1="296.88" x2="307.90" y2="296.88" stroke="#111" stroke-width="1.0"/>
<line x1="304.70" y1="305.26" x2="307.90" y2="305.26" stroke="#111" stroke-width="1.0"/>
<line x1="304.70" y1="296.38" x2="304.70" y2="305.76" stroke="#111" stroke-width="1.0"/>
<line x1="301.90" y1="301.07" x2="304.70" y2="301.07" stroke="#111" stroke-width="1.0"/>
<line x1="301.90" y1="313.65" x2="307.90" y2="313.65" stroke="#111" stroke-width="1.0"/>
<line x1="301.90" y1="300.57" x2="301.90" y2="314.15" stroke="#111" stroke-width="1.0"/>
<line x1="296.00" y1="284.29" x2="300.70" y2="284.29" stroke="#111" stroke-width="1.0"/>
<line x1="296.00" y1="307.36" x2="301.90" y2="307.36" stroke="#111" stroke-width="1.0"/>
<line x1="296.00" y1="283.79" x2="296.00" y2="307.86" stroke="#111" stroke-width="1.0"/>
<line x1="302.60" y1="322.04" x2="307.90" y2="322.04" stroke="#111" stroke-width="1.0"/>
<line x1="302.60" y1="330.44" x2="307.90" y2="330.44" stroke="#111" stroke-width="1.0"/>
<line x1="302.60" y1="321.54" x2="302.60" y2="330.94" stroke="#111" stroke-width="1.0"/>
<line x1="294.70" y1="295.83" x2="296.00" y2="295.83" stroke="#111" stroke-width="1.0"/>
<line x1="294.70" y1="326.24" x2="302.60" y2="326.24" stroke="#111" stroke-width="1.0"/>
<line x1="294.70" y1="295.33" x2="294.70" y2="326.74" stroke="#111" stroke-width="1.0"/>
<line x1="278.70" y1="311.03" x2="294.70" y2="311.03" stroke="#111" stroke-width="1.0"/>
<line x1="278.70" y1="338.82" x2="307.90" y2="338.82" stroke="#111" stroke-width="1.0"/>
<line x1="278.70" y1="310.53" x2="278.70" y2="339.32" stroke="#111" stroke-width="1.0"/>
<line x1="288.00" y1="355.61" x2="307.90" y2="355.61" stroke="#111" stroke-width="1.0"/>
<line x1="288.00" y1="364.00" x2="307.90" y2="364.00" stroke="#111" stroke-width="1.0"/>
<line x1="288.00" y1="355.11" x2="288.00" y2="364.50" stroke="#111" stroke-width="1.0"/>
<line x1="286.70" y1="347.21" x2="307.90" y2="347.21" stroke="#111" stroke-width="1.0"/>
<line x1="286.70" y1="359.80" x2="288.00" y2="359.80" stroke="#111" stroke-width="1.0"/>
<line x1="286.70" y1="346.71" x2="286.70" y2="360.30" stroke="#111" stroke-width="1.0"/>
<line x1="281.10" y1="353.51" x2="286.70" y2="353.51" stroke="#111" stroke-width="1.0"/>
<line x1="281.10" y1="372.38" x2="307.90" y2="372.38" stroke="#111" stroke-width="1.0"/>
<line x1="281.10" y1="353.01" x2="281.10" y2="372.88" stroke="#111" stroke-width="1.0"/>
<line x1="274.30" y1="324.93" x2="278.70" y2="324.93" stroke="#111" stroke-width="1.0"/>
<line x1="274.30" y1="362.95" x2="281.10" y2="362.95" stroke="#111" stroke-width="1.0"/>
<line x1="274.30" y1="324.43" x2="274.30" y2="363.45" stroke="#111" stroke-width="1.0"/>
<line x1="273.90" y1="274.40" x2="304.90" y2="274.40" stroke="#111" stroke-width="1.1"/>
<line x1="274.30" y1="271.90" x2="274.30" y2="274.90" stroke="#111" stroke-width="1.0"/>
<line x1="289.40" y1="271.90" x2="289.40" y2="274.90" stroke="#111" stroke-width="1.0"/>
<line x1="304.50" y1="271.90" x2="304.50" y2="274.90" stroke="#111" stroke-width="1.0"/>
<text x="276.30" y="269.20" font-size="6.1" fill="#1a1a1a" stroke="#1a1a1a" stroke-width="0.13" textLength="44.40" lengthAdjust="spacingAndGlyphs" transform="rotate(-90 276.30 269.20)">−0.0025776433</text>
<text x="291.40" y="269.20" font-size="6.1" fill="#1a1a1a" stroke="#1a1a1a" stroke-width="0.13" textLength="34.20" lengthAdjust="spacingAndGlyphs" transform="rotate(-90 291.40 269.20)">0.49871123</text>
<text x="306.40" y="269.20" font-size="6.0" fill="#1a1a1a" stroke="#1a1a1a" stroke-width="0.05" transform="rotate(-90 306.40 269.20)">1.0</text>
<rect x="308.00" y="381.60" width="168.20" height="6.20" fill="url(#cbR)"/>
<text x="306.80" y="395.60" font-size="6.9" fill="#1a1a1a" stroke="#1a1a1a" stroke-width="0.17" text-anchor="middle">−2.0</text>
<text x="392.10" y="395.60" font-size="6.9" fill="#1a1a1a" stroke="#1a1a1a" stroke-width="0.17" text-anchor="middle">0.0</text>
<text x="476.40" y="395.60" font-size="6.9" fill="#1a1a1a" stroke="#1a1a1a" stroke-width="0.17" text-anchor="middle">2.0</text>
</svg>
</body></html>
